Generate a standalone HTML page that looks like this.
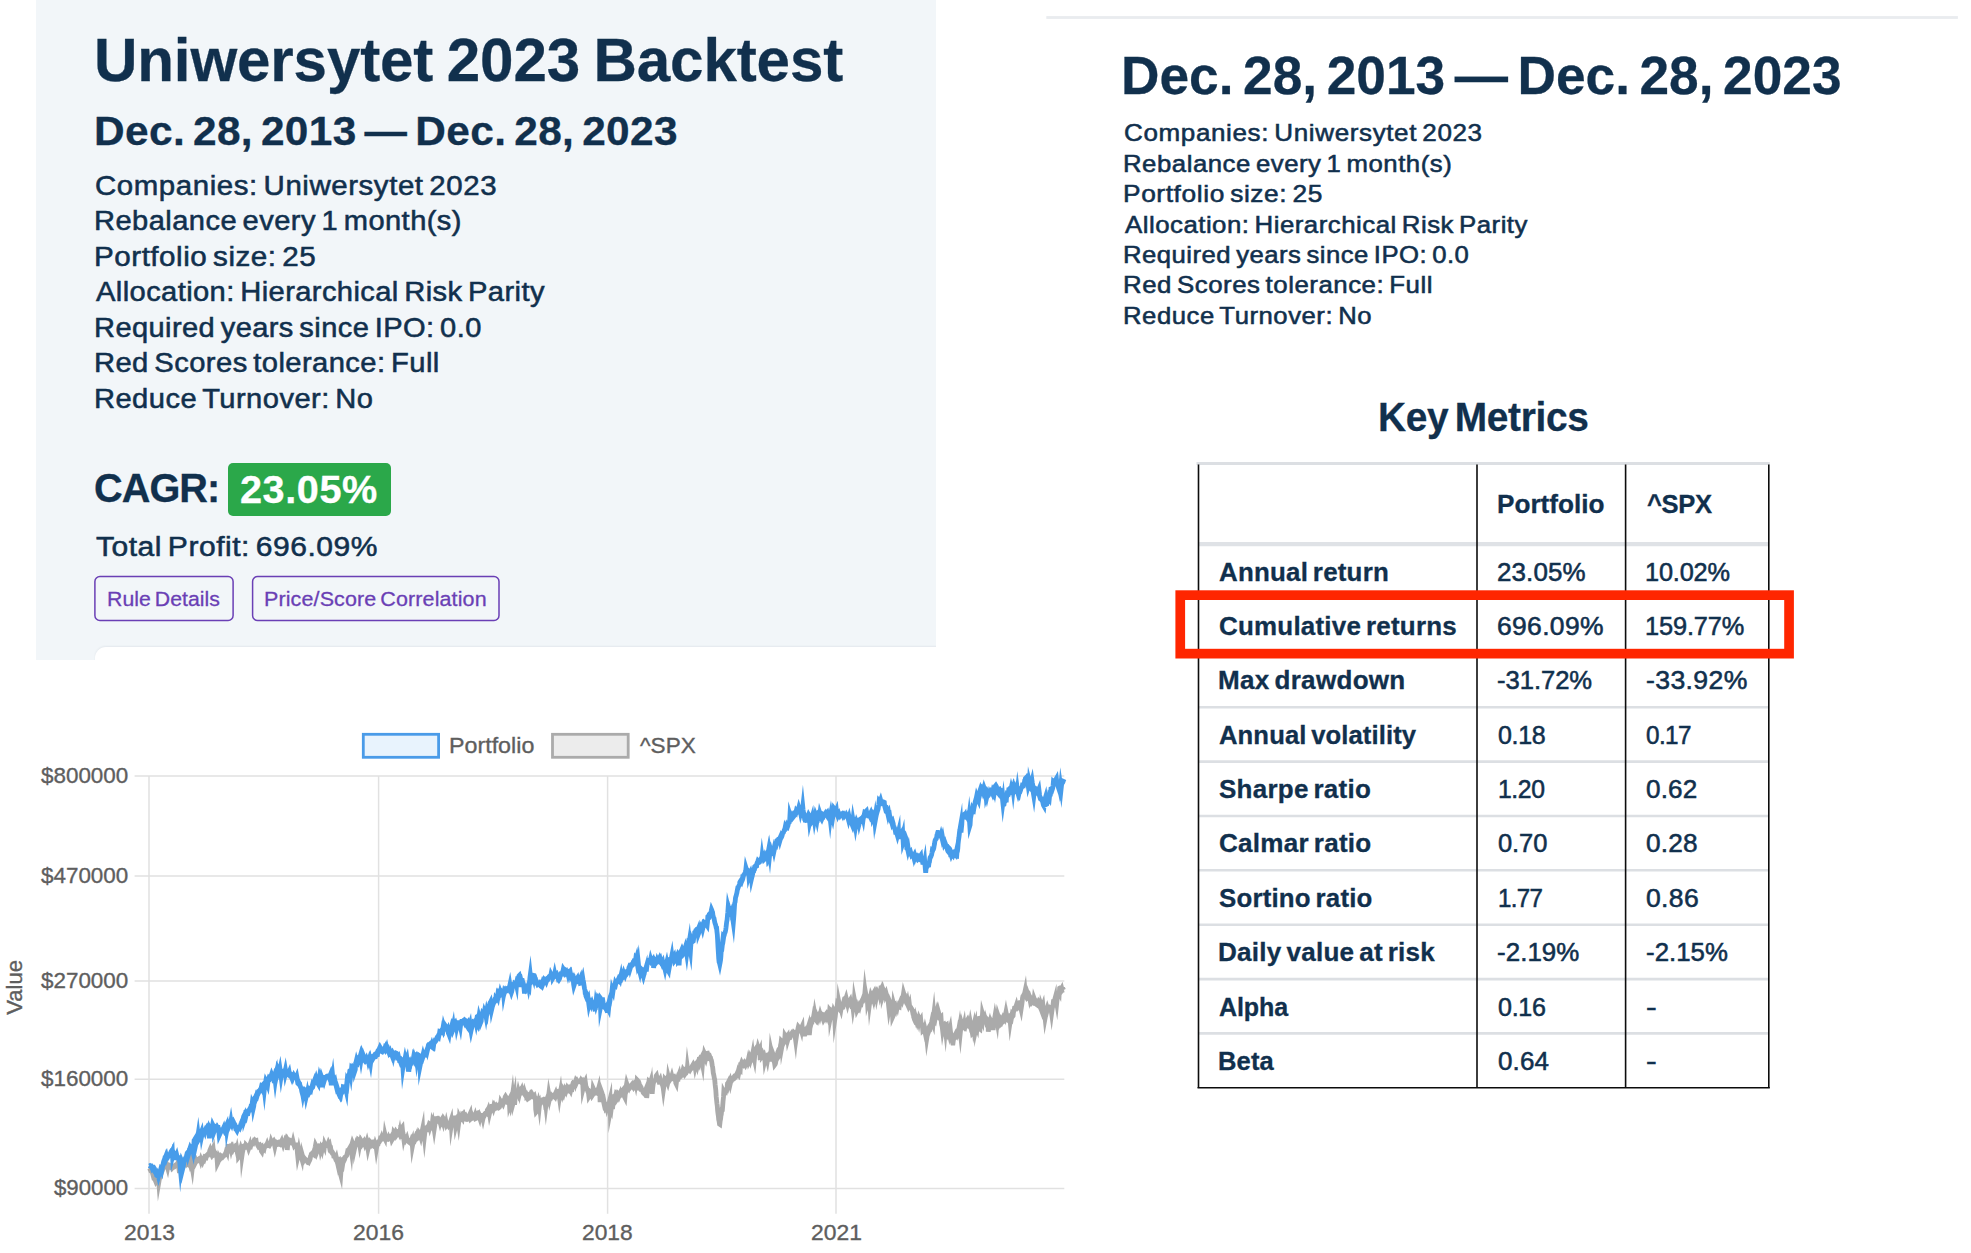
<!DOCTYPE html>
<html lang="en"><head><meta charset="utf-8"><title>Uniwersytet 2023 Backtest</title>
<style>
html,body{margin:0;padding:0;background:#fff;}
body{width:1971px;height:1253px;position:relative;overflow:hidden;font-family:"Liberation Sans", Arial, Helvetica, sans-serif;}
.t{position:absolute;white-space:pre;line-height:1;margin:0;padding:0;transform-origin:0 0;}
.panel{position:absolute;left:36px;top:0;width:900px;height:660px;background:#f2f6f9;overflow:hidden;}
.card{position:absolute;left:59px;top:646.5px;width:1000px;height:60px;background:#fff;border-top-left-radius:11px;box-shadow:0 -1px 2px rgba(40,60,90,.07);}
.badge{position:absolute;left:228.4px;top:463.3px;width:162.4px;height:52.3px;background:#2ba84a;border-radius:5px;}
svg{position:absolute;left:0;top:0;}
</style></head><body>
<div class="panel"><div class="card"></div></div>
<div class="badge"></div>
<svg width="1971" height="1253" viewBox="0 0 1971 1253">
<rect x="1046.3" y="16.1" width="911.6" height="2.8" fill="#e9ecef"/>
<rect x="94.9" y="576.6" width="138.2" height="43.8" rx="5" fill="none" stroke="#6a3fb5" stroke-width="1.5"/>
<rect x="252.6" y="576.6" width="246.4" height="43.8" rx="5" fill="none" stroke="#6a3fb5" stroke-width="1.5"/>
<line x1="134.6" y1="776.0" x2="1064.3" y2="776.0" stroke="#e1e1e1" stroke-width="1.5"/>
<line x1="134.6" y1="876.0" x2="1064.3" y2="876.0" stroke="#e1e1e1" stroke-width="1.5"/>
<line x1="134.6" y1="981.1" x2="1064.3" y2="981.1" stroke="#e1e1e1" stroke-width="1.5"/>
<line x1="134.6" y1="1079.3" x2="1064.3" y2="1079.3" stroke="#e1e1e1" stroke-width="1.5"/>
<line x1="134.6" y1="1188.5" x2="1064.3" y2="1188.5" stroke="#e1e1e1" stroke-width="1.5"/>
<line x1="149.0" y1="776.0" x2="149.0" y2="1213.8" stroke="#e1e1e1" stroke-width="1.5"/>
<line x1="378.6" y1="776.0" x2="378.6" y2="1213.8" stroke="#e1e1e1" stroke-width="1.5"/>
<line x1="607.6" y1="776.0" x2="607.6" y2="1213.8" stroke="#e1e1e1" stroke-width="1.5"/>
<line x1="836.0" y1="776.0" x2="836.0" y2="1213.8" stroke="#e1e1e1" stroke-width="1.5"/>
<rect x="363.3" y="734.3" width="75.3" height="23" fill="#e8f3fd" stroke="#4a9be8" stroke-width="2.8"/>
<rect x="552.5" y="734.3" width="75.7" height="23" fill="#ececec" stroke="#ababab" stroke-width="2.8"/>
<path d="M149.0,1168.0 149.4,1168.3 149.7,1168.8 150.1,1169.6 150.5,1170.2 150.8,1171.0 151.2,1171.2 151.5,1171.1 151.9,1171.0 152.3,1172.5 152.6,1171.5 153.0,1171.7 153.4,1172.7 153.7,1175.0 154.1,1176.9 154.5,1177.5 154.8,1178.9 155.2,1180.2 155.5,1180.9 155.9,1181.9 156.3,1181.3 156.6,1181.4 157.0,1180.8 157.4,1179.9 157.7,1179.8 158.1,1178.6 158.5,1178.4 158.8,1182.3 159.2,1180.0 159.6,1178.4 159.9,1176.5 160.3,1176.0 160.6,1175.3 161.0,1173.8 161.4,1173.3 161.7,1172.4 162.1,1171.0 162.5,1170.0 162.8,1168.4 163.2,1166.8 163.6,1166.7 163.9,1167.2 164.3,1166.6 164.6,1166.6 165.0,1166.5 165.4,1166.4 165.7,1166.2 166.1,1166.0 166.5,1164.9 166.8,1165.8 167.2,1166.4 167.6,1167.8 167.9,1166.2 168.3,1167.0 168.6,1166.8 169.0,1166.4 169.4,1165.9 169.7,1166.2 170.1,1166.9 170.5,1167.2 170.8,1166.7 171.2,1167.1 171.6,1167.4 171.9,1166.4 172.3,1166.4 172.6,1167.8 173.0,1167.4 173.4,1167.4 173.7,1167.3 174.1,1167.1 174.5,1166.6 174.8,1166.0 175.2,1166.1 175.6,1165.8 175.9,1165.1 176.3,1165.1 176.7,1164.5 177.0,1164.8 177.4,1163.9 177.7,1164.8 178.1,1165.8 178.5,1167.1 178.8,1167.8 179.2,1170.8 179.6,1170.8 179.9,1170.7 180.3,1170.6 180.7,1168.7 181.0,1167.8 181.4,1168.5 181.7,1167.5 182.1,1166.8 182.5,1167.2 182.8,1166.6 183.2,1164.2 183.6,1163.2 183.9,1162.8 184.3,1162.3 184.7,1162.0 185.0,1163.7 185.4,1163.2 185.7,1162.3 186.1,1163.0 186.5,1163.9 186.8,1163.5 187.2,1163.8 187.6,1162.7 187.9,1162.8 188.3,1162.1 188.7,1160.9 189.0,1160.1 189.4,1161.5 189.7,1159.7 190.1,1158.6 190.5,1159.6 190.8,1159.0 191.2,1158.5 191.6,1162.5 191.9,1165.6 192.3,1168.0 192.7,1164.5 193.0,1161.6 193.4,1158.7 193.7,1156.6 194.1,1157.6 194.5,1158.6 194.8,1158.5 195.2,1160.6 195.6,1162.3 195.9,1161.7 196.3,1160.9 196.7,1160.6 197.0,1160.0 197.4,1160.3 197.8,1159.6 198.1,1159.4 198.5,1160.3 198.8,1160.3 199.2,1160.3 199.6,1160.5 199.9,1160.0 200.3,1159.3 200.7,1160.6 201.0,1159.5 201.4,1160.5 201.8,1159.9 202.1,1160.1 202.5,1159.7 202.8,1160.7 203.2,1159.6 203.6,1159.1 203.9,1158.4 204.3,1159.0 204.7,1157.8 205.0,1156.4 205.4,1156.2 205.8,1157.5 206.1,1157.6 206.5,1156.1 206.8,1155.2 207.2,1154.8 207.6,1155.1 207.9,1155.1 208.3,1154.3 208.7,1153.3 209.0,1152.9 209.4,1152.3 209.8,1150.4 210.1,1149.7 210.5,1151.0 210.8,1152.8 211.2,1153.7 211.6,1152.6 211.9,1152.8 212.3,1151.6 212.7,1153.3 213.0,1152.7 213.4,1151.2 213.8,1154.9 214.1,1154.7 214.5,1152.9 214.9,1154.1 215.2,1154.0 215.6,1154.8 215.9,1153.7 216.3,1154.2 216.7,1156.6 217.0,1158.2 217.4,1163.8 217.8,1163.0 218.1,1161.8 218.5,1161.1 218.9,1160.3 219.2,1157.7 219.6,1158.5 219.9,1157.9 220.3,1158.8 220.7,1158.3 221.0,1157.9 221.4,1156.2 221.8,1156.5 222.1,1156.9 222.5,1157.2 222.9,1156.7 223.2,1156.3 223.6,1156.1 223.9,1155.6 224.3,1155.2 224.7,1155.1 225.0,1154.4 225.4,1154.3 225.8,1152.9 226.1,1152.0 226.5,1150.5 226.9,1150.7 227.2,1151.5 227.6,1148.2 227.9,1146.4 228.3,1146.5 228.7,1146.4 229.0,1146.9 229.4,1146.2 229.8,1146.0 230.1,1146.0 230.5,1147.8 230.9,1147.2 231.2,1148.7 231.6,1147.1 232.0,1146.6 232.3,1147.7 232.7,1148.1 233.0,1148.9 233.4,1148.0 233.8,1148.3 234.1,1147.7 234.5,1146.9 234.9,1146.8 235.2,1147.0 235.6,1146.3 236.0,1146.7 236.3,1148.3 236.7,1150.0 237.0,1148.8 237.4,1150.9 237.8,1150.2 238.1,1150.1 238.5,1157.3 238.9,1156.8 239.2,1153.7 239.6,1153.5 240.0,1151.7 240.3,1149.4 240.7,1148.1 241.0,1149.0 241.4,1149.4 241.8,1149.3 242.1,1154.8 242.5,1152.1 242.9,1150.4 243.2,1148.7 243.6,1146.1 244.0,1145.9 244.3,1146.7 244.7,1147.0 245.0,1147.2 245.4,1147.4 245.8,1147.3 246.1,1145.0 246.5,1145.4 246.9,1145.7 247.2,1145.8 247.6,1145.8 248.0,1146.4 248.3,1147.2 248.7,1148.5 249.0,1147.7 249.4,1146.1 249.8,1145.0 250.1,1146.7 250.5,1146.8 250.9,1145.4 251.2,1144.6 251.6,1143.7 252.0,1143.9 252.3,1143.9 252.7,1143.6 253.1,1142.3 253.4,1141.7 253.8,1142.3 254.1,1141.7 254.5,1141.3 254.9,1140.6 255.2,1141.0 255.6,1140.7 256.0,1140.6 256.3,1142.9 256.7,1143.2 257.1,1143.6 257.4,1144.2 257.8,1145.4 258.1,1145.9 258.5,1146.6 258.9,1146.2 259.2,1145.5 259.6,1145.9 260.0,1145.5 260.3,1146.1 260.7,1147.2 261.1,1146.9 261.4,1151.1 261.8,1151.7 262.1,1150.3 262.5,1148.4 262.9,1148.6 263.2,1149.5 263.6,1148.9 264.0,1149.3 264.3,1147.9 264.7,1146.4 265.1,1146.0 265.4,1145.9 265.8,1145.4 266.1,1146.0 266.5,1145.7 266.9,1144.7 267.2,1143.9 267.6,1145.0 268.0,1145.4 268.3,1145.5 268.7,1144.5 269.1,1144.3 269.4,1144.0 269.8,1143.5 270.2,1144.3 270.5,1143.8 270.9,1142.8 271.2,1141.4 271.6,1142.4 272.0,1142.6 272.3,1142.1 272.7,1142.3 273.1,1141.8 273.4,1141.5 273.8,1141.0 274.2,1141.8 274.5,1144.7 274.9,1146.6 275.2,1145.3 275.6,1144.7 276.0,1143.1 276.3,1142.7 276.7,1143.1 277.1,1142.9 277.4,1143.7 277.8,1144.4 278.2,1144.3 278.5,1144.2 278.9,1143.4 279.2,1143.5 279.6,1144.3 280.0,1144.5 280.3,1143.9 280.7,1142.0 281.1,1142.0 281.4,1141.4 281.8,1143.3 282.2,1143.4 282.5,1142.6 282.9,1143.1 283.2,1144.1 283.6,1142.8 284.0,1142.8 284.3,1141.8 284.7,1141.7 285.1,1140.4 285.4,1139.6 285.8,1140.1 286.2,1141.0 286.5,1139.9 286.9,1140.7 287.3,1150.0 287.6,1145.9 288.0,1144.2 288.3,1141.0 288.7,1141.7 289.1,1141.4 289.4,1140.4 289.8,1140.1 290.2,1140.3 290.5,1141.5 290.9,1141.5 291.3,1141.8 291.6,1141.4 292.0,1141.6 292.3,1143.3 292.7,1143.5 293.1,1141.8 293.4,1143.1 293.8,1144.2 294.2,1145.5 294.5,1145.1 294.9,1145.1 295.3,1145.3 295.6,1145.0 296.0,1145.0 296.3,1146.9 296.7,1147.6 297.1,1148.3 297.4,1152.9 297.8,1156.7 298.2,1155.0 298.5,1152.8 298.9,1150.5 299.3,1152.7 299.6,1152.9 300.0,1154.5 300.3,1155.3 300.7,1155.7 301.1,1156.3 301.4,1157.4 301.8,1158.8 302.2,1154.8 302.5,1155.9 302.9,1156.3 303.3,1157.3 303.6,1158.1 304.0,1158.4 304.3,1159.4 304.7,1158.7 305.1,1159.2 305.4,1159.7 305.8,1159.5 306.2,1159.7 306.5,1160.3 306.9,1160.9 307.3,1161.6 307.6,1161.5 308.0,1162.1 308.4,1161.9 308.7,1162.2 309.1,1161.3 309.4,1160.9 309.8,1159.9 310.2,1158.7 310.5,1156.4 310.9,1155.7 311.3,1154.1 311.6,1153.8 312.0,1153.9 312.4,1153.3 312.7,1152.9 313.1,1154.1 313.4,1154.4 313.8,1154.7 314.2,1151.9 314.5,1149.7 314.9,1148.3 315.3,1146.5 315.6,1144.9 316.0,1145.7 316.4,1145.8 316.7,1147.0 317.1,1148.3 317.4,1150.7 317.8,1149.7 318.2,1147.9 318.5,1146.3 318.9,1145.9 319.3,1146.0 319.6,1146.9 320.0,1147.0 320.4,1147.3 320.7,1149.3 321.1,1147.8 321.4,1148.4 321.8,1147.7 322.2,1149.2 322.5,1147.8 322.9,1145.6 323.3,1144.8 323.6,1144.4 324.0,1145.5 324.4,1146.5 324.7,1144.1 325.1,1145.0 325.5,1145.4 325.8,1145.5 326.2,1145.5 326.5,1145.1 326.9,1144.9 327.3,1145.4 327.6,1145.5 328.0,1144.0 328.4,1142.9 328.7,1143.6 329.1,1145.6 329.5,1144.9 329.8,1146.4 330.2,1146.6 330.5,1149.6 330.9,1149.4 331.3,1151.9 331.6,1152.2 332.0,1152.9 332.4,1153.6 332.7,1153.8 333.1,1153.4 333.5,1154.1 333.8,1156.4 334.2,1156.5 334.5,1156.7 334.9,1156.9 335.3,1158.0 335.6,1157.8 336.0,1158.9 336.4,1157.8 336.7,1159.2 337.1,1161.0 337.5,1157.0 337.8,1160.2 338.2,1162.9 338.5,1162.8 338.9,1162.4 339.3,1161.8 339.6,1163.3 340.0,1173.4 340.4,1173.9 340.7,1175.0 341.1,1169.5 341.5,1164.8 341.8,1160.1 342.2,1159.8 342.6,1162.0 342.9,1162.8 343.3,1160.2 343.6,1159.8 344.0,1159.3 344.4,1159.9 344.7,1159.3 345.1,1157.2 345.5,1157.0 345.8,1156.5 346.2,1156.1 346.6,1155.7 346.9,1154.8 347.3,1153.0 347.6,1151.6 348.0,1151.8 348.4,1151.2 348.7,1151.1 349.1,1149.0 349.5,1148.3 349.8,1149.0 350.2,1147.9 350.6,1147.7 350.9,1147.3 351.3,1150.1 351.6,1146.4 352.0,1143.9 352.4,1142.5 352.7,1143.2 353.1,1143.8 353.5,1143.4 353.8,1143.5 354.2,1143.5 354.6,1148.4 354.9,1147.0 355.3,1145.7 355.6,1145.3 356.0,1144.0 356.4,1143.5 356.7,1142.4 357.1,1140.8 357.5,1141.0 357.8,1141.5 358.2,1139.7 358.6,1140.0 358.9,1142.0 359.3,1142.1 359.7,1144.6 360.0,1143.0 360.4,1141.4 360.7,1142.1 361.1,1140.8 361.5,1141.5 361.8,1141.8 362.2,1140.9 362.6,1141.0 362.9,1143.0 363.3,1142.4 363.7,1142.1 364.0,1141.6 364.4,1142.8 364.7,1143.7 365.1,1142.4 365.5,1142.8 365.8,1143.2 366.2,1143.2 366.6,1142.5 366.9,1141.5 367.3,1143.2 367.7,1146.9 368.0,1148.9 368.4,1147.2 368.7,1143.5 369.1,1143.2 369.5,1143.8 369.8,1143.1 370.2,1141.7 370.6,1142.1 370.9,1142.1 371.3,1143.0 371.7,1143.0 372.0,1144.2 372.4,1143.7 372.7,1144.6 373.1,1145.5 373.5,1145.7 373.8,1146.1 374.2,1146.5 374.6,1146.7 374.9,1145.6 375.3,1144.0 375.7,1145.1 376.0,1145.6 376.4,1148.7 376.7,1146.9 377.1,1145.6 377.5,1144.0 377.8,1143.5 378.2,1142.7 378.6,1142.9 378.9,1142.0 379.3,1141.9 379.7,1141.2 380.0,1140.3 380.4,1138.4 380.8,1138.5 381.1,1138.3 381.5,1137.3 381.8,1138.3 382.2,1138.2 382.6,1138.2 382.9,1137.8 383.3,1138.5 383.7,1138.3 384.0,1138.4 384.4,1137.7 384.8,1138.5 385.1,1135.1 385.5,1136.8 385.8,1136.5 386.2,1136.7 386.6,1137.1 386.9,1138.5 387.3,1139.2 387.7,1139.3 388.0,1138.6 388.4,1138.6 388.8,1137.4 389.1,1138.0 389.5,1137.8 389.8,1136.5 390.2,1136.4 390.6,1136.9 390.9,1137.5 391.3,1136.8 391.7,1138.4 392.0,1139.8 392.4,1139.1 392.8,1138.8 393.1,1136.4 393.5,1134.7 393.8,1132.5 394.2,1133.1 394.6,1132.8 394.9,1133.6 395.3,1132.2 395.7,1131.4 396.0,1131.9 396.4,1131.8 396.8,1132.7 397.1,1134.2 397.5,1133.6 397.9,1133.4 398.2,1132.5 398.6,1132.2 398.9,1132.9 399.3,1133.7 399.7,1131.9 400.0,1133.7 400.4,1133.7 400.8,1125.0 401.1,1128.2 401.5,1128.7 401.9,1127.7 402.2,1127.3 402.6,1131.4 402.9,1135.5 403.3,1135.3 403.7,1138.2 404.0,1136.9 404.4,1138.2 404.8,1137.5 405.1,1138.1 405.5,1138.1 405.9,1139.5 406.2,1139.0 406.6,1138.9 406.9,1138.2 407.3,1139.7 407.7,1139.6 408.0,1139.8 408.4,1140.8 408.8,1141.6 409.1,1142.2 409.5,1142.5 409.9,1142.1 410.2,1142.3 410.6,1142.3 410.9,1141.9 411.3,1140.7 411.7,1141.8 412.0,1141.0 412.4,1146.0 412.8,1143.9 413.1,1140.1 413.5,1138.2 413.9,1137.5 414.2,1137.3 414.6,1137.3 415.0,1137.9 415.3,1137.2 415.7,1138.3 416.0,1137.6 416.4,1136.5 416.8,1138.1 417.1,1138.7 417.5,1138.4 417.9,1136.8 418.2,1136.1 418.6,1134.8 419.0,1132.7 419.3,1133.1 419.7,1134.2 420.0,1134.6 420.4,1135.6 420.8,1136.9 421.1,1135.5 421.5,1134.2 421.9,1132.9 422.2,1130.9 422.6,1129.0 423.0,1137.1 423.3,1133.0 423.7,1129.4 424.0,1132.8 424.4,1136.5 424.8,1133.0 425.1,1130.2 425.5,1130.1 425.9,1128.7 426.2,1127.7 426.6,1127.5 427.0,1127.8 427.3,1127.4 427.7,1127.8 428.0,1132.0 428.4,1128.5 428.8,1125.9 429.1,1124.9 429.5,1125.4 429.9,1127.1 430.2,1126.1 430.6,1126.7 431.0,1125.8 431.3,1126.2 431.7,1125.8 432.0,1126.3 432.4,1122.8 432.8,1124.0 433.1,1122.8 433.5,1124.8 433.9,1127.3 434.2,1129.3 434.6,1126.7 435.0,1123.9 435.3,1121.8 435.7,1121.7 436.1,1121.6 436.4,1118.6 436.8,1118.6 437.1,1118.5 437.5,1119.4 437.9,1119.2 438.2,1120.4 438.6,1120.4 439.0,1121.1 439.3,1120.5 439.7,1120.4 440.1,1122.0 440.4,1120.9 440.8,1121.3 441.1,1120.8 441.5,1122.8 441.9,1122.2 442.2,1120.9 442.6,1121.2 443.0,1122.4 443.3,1120.7 443.7,1119.0 444.1,1119.6 444.4,1120.2 444.8,1121.2 445.1,1122.5 445.5,1124.3 445.9,1124.3 446.2,1123.0 446.6,1124.9 447.0,1124.3 447.3,1124.2 447.7,1124.2 448.1,1124.9 448.4,1124.1 448.8,1124.0 449.1,1124.5 449.5,1124.8 449.9,1124.7 450.2,1123.5 450.6,1121.6 451.0,1120.4 451.3,1125.0 451.7,1122.5 452.1,1120.0 452.4,1120.0 452.8,1117.9 453.2,1117.9 453.5,1121.3 453.9,1121.8 454.2,1119.4 454.6,1118.1 455.0,1118.0 455.3,1121.6 455.7,1126.0 456.1,1124.4 456.4,1123.3 456.8,1121.4 457.2,1118.5 457.5,1117.9 457.9,1118.3 458.2,1120.8 458.6,1123.5 459.0,1120.4 459.3,1116.9 459.7,1117.8 460.1,1117.4 460.4,1117.8 460.8,1117.9 461.2,1119.0 461.5,1119.2 461.9,1117.1 462.2,1117.6 462.6,1113.9 463.0,1113.6 463.3,1115.7 463.7,1117.3 464.1,1116.5 464.4,1115.5 464.8,1116.3 465.2,1115.8 465.5,1115.5 465.9,1116.3 466.2,1118.0 466.6,1119.4 467.0,1119.5 467.3,1119.4 467.7,1118.1 468.1,1117.7 468.4,1117.0 468.8,1116.2 469.2,1116.0 469.5,1116.3 469.9,1114.3 470.3,1113.4 470.6,1115.8 471.0,1118.5 471.3,1118.2 471.7,1118.4 472.1,1118.1 472.4,1116.6 472.8,1117.6 473.2,1117.7 473.5,1117.2 473.9,1116.9 474.3,1116.6 474.6,1116.6 475.0,1115.5 475.3,1116.8 475.7,1118.6 476.1,1118.4 476.4,1116.9 476.8,1115.4 477.2,1113.7 477.5,1113.2 477.9,1113.0 478.3,1113.4 478.6,1115.3 479.0,1115.3 479.3,1116.8 479.7,1118.0 480.1,1116.1 480.4,1116.7 480.8,1116.3 481.2,1115.4 481.5,1115.5 481.9,1115.5 482.3,1116.8 482.6,1116.8 483.0,1118.6 483.3,1117.2 483.7,1115.8 484.1,1115.8 484.4,1114.6 484.8,1114.0 485.2,1114.0 485.5,1113.5 485.9,1113.5 486.3,1113.7 486.6,1112.9 487.0,1112.1 487.3,1110.2 487.7,1109.6 488.1,1110.2 488.4,1109.4 488.8,1110.9 489.2,1111.6 489.5,1113.5 489.9,1111.8 490.3,1109.7 490.6,1110.1 491.0,1108.9 491.4,1107.3 491.7,1106.3 492.1,1106.3 492.4,1106.6 492.8,1107.0 493.2,1108.1 493.5,1106.8 493.9,1107.7 494.3,1106.5 494.6,1107.2 495.0,1107.9 495.4,1107.4 495.7,1106.3 496.1,1105.7 496.4,1106.2 496.8,1107.0 497.2,1106.6 497.5,1107.6 497.9,1107.8 498.3,1107.4 498.6,1107.2 499.0,1107.6 499.4,1107.3 499.7,1106.6 500.1,1105.0 500.4,1104.5 500.8,1101.7 501.2,1102.4 501.5,1101.9 501.9,1101.6 502.3,1103.2 502.6,1103.2 503.0,1103.9 503.4,1102.7 503.7,1101.6 504.1,1101.2 504.4,1101.3 504.8,1098.6 505.2,1096.9 505.5,1096.4 505.9,1097.1 506.3,1098.3 506.6,1098.6 507.0,1100.3 507.4,1100.3 507.7,1102.5 508.1,1102.6 508.5,1101.7 508.8,1100.4 509.2,1099.6 509.5,1105.0 509.9,1103.8 510.3,1105.4 510.6,1103.8 511.0,1103.9 511.4,1100.7 511.7,1100.1 512.1,1098.5 512.5,1095.5 512.8,1098.8 513.2,1102.9 513.5,1101.8 513.9,1098.7 514.3,1096.6 514.6,1104.8 515.0,1099.5 515.4,1094.1 515.7,1093.5 516.1,1094.3 516.5,1093.9 516.8,1094.1 517.2,1093.4 517.5,1092.9 517.9,1093.7 518.3,1091.6 518.6,1092.8 519.0,1091.5 519.4,1091.0 519.7,1092.6 520.1,1090.9 520.5,1089.9 520.8,1089.6 521.2,1090.0 521.5,1089.4 521.9,1091.4 522.3,1090.9 522.6,1091.9 523.0,1092.6 523.4,1093.0 523.7,1092.8 524.1,1093.4 524.5,1091.8 524.8,1092.8 525.2,1092.6 525.6,1092.6 525.9,1093.3 526.3,1093.5 526.6,1096.5 527.0,1096.2 527.4,1098.5 527.7,1099.0 528.1,1098.7 528.5,1098.5 528.8,1094.7 529.2,1094.6 529.6,1095.2 529.9,1095.2 530.3,1094.7 530.6,1094.5 531.0,1093.5 531.4,1093.9 531.7,1093.4 532.1,1094.1 532.5,1095.8 532.8,1097.0 533.2,1097.1 533.6,1096.4 533.9,1096.2 534.3,1095.8 534.6,1097.0 535.0,1097.4 535.4,1099.2 535.7,1109.4 536.1,1112.0 536.5,1111.5 536.8,1108.3 537.2,1105.5 537.6,1103.1 537.9,1103.6 538.3,1102.1 538.6,1103.5 539.0,1102.7 539.4,1105.8 539.7,1103.0 540.1,1103.6 540.5,1103.4 540.8,1102.7 541.2,1101.1 541.6,1101.2 541.9,1101.3 542.3,1101.2 542.7,1101.0 543.0,1099.6 543.4,1099.5 543.7,1099.5 544.1,1099.2 544.5,1099.4 544.8,1100.5 545.2,1103.5 545.6,1102.9 545.9,1105.5 546.3,1102.3 546.7,1098.6 547.0,1098.4 547.4,1097.8 547.7,1097.0 548.1,1098.2 548.5,1096.6 548.8,1094.2 549.2,1096.4 549.6,1098.8 549.9,1097.5 550.3,1096.4 550.7,1096.3 551.0,1096.1 551.4,1096.6 551.7,1095.9 552.1,1096.4 552.5,1096.5 552.8,1095.7 553.2,1095.5 553.6,1095.0 553.9,1094.8 554.3,1096.5 554.7,1096.9 555.0,1095.5 555.4,1093.8 555.7,1093.1 556.1,1094.5 556.5,1093.4 556.8,1093.8 557.2,1093.1 557.6,1092.2 557.9,1091.3 558.3,1091.2 558.7,1091.7 559.0,1094.1 559.4,1097.0 559.7,1095.0 560.1,1093.9 560.5,1091.7 560.8,1094.3 561.2,1094.3 561.6,1092.0 561.9,1091.7 562.3,1093.3 562.7,1091.8 563.0,1092.8 563.4,1093.7 563.8,1092.2 564.1,1091.4 564.5,1090.2 564.8,1091.0 565.2,1090.8 565.6,1090.8 565.9,1091.4 566.3,1090.2 566.7,1088.9 567.0,1089.2 567.4,1087.8 567.8,1088.4 568.1,1089.4 568.5,1089.8 568.8,1089.1 569.2,1088.4 569.6,1089.0 569.9,1089.2 570.3,1090.0 570.7,1090.8 571.0,1089.7 571.4,1089.2 571.8,1089.3 572.1,1085.7 572.5,1085.2 572.8,1084.1 573.2,1084.2 573.6,1082.9 573.9,1083.0 574.3,1083.3 574.7,1083.0 575.0,1083.8 575.4,1082.1 575.8,1080.8 576.1,1081.3 576.5,1081.3 576.8,1082.1 577.2,1081.2 577.6,1081.9 577.9,1081.7 578.3,1081.3 578.7,1081.6 579.0,1081.7 579.4,1081.7 579.8,1081.4 580.1,1081.6 580.5,1081.0 580.9,1080.2 581.2,1080.7 581.6,1080.9 581.9,1080.7 582.3,1082.5 582.7,1082.5 583.0,1088.7 583.4,1087.1 583.8,1086.1 584.1,1084.0 584.5,1082.0 584.9,1081.8 585.2,1081.2 585.6,1084.1 585.9,1086.4 586.3,1087.1 586.7,1088.2 587.0,1089.5 587.4,1090.1 587.8,1091.4 588.1,1092.2 588.5,1093.3 588.9,1096.6 589.2,1096.1 589.6,1095.2 589.9,1093.0 590.3,1092.0 590.7,1092.4 591.0,1092.0 591.4,1092.1 591.8,1094.9 592.1,1095.8 592.5,1095.2 592.9,1091.8 593.2,1088.3 593.6,1089.2 593.9,1089.6 594.3,1090.6 594.7,1091.2 595.0,1091.8 595.4,1092.3 595.8,1091.9 596.1,1092.6 596.5,1092.8 596.9,1093.0 597.2,1091.9 597.6,1090.6 598.0,1090.7 598.3,1089.5 598.7,1088.0 599.0,1090.7 599.4,1093.7 599.8,1094.5 600.1,1102.1 600.5,1096.3 600.9,1097.1 601.2,1097.1 601.6,1092.0 602.0,1093.1 602.3,1095.9 602.7,1097.5 603.0,1098.9 603.4,1101.0 603.8,1102.8 604.1,1102.0 604.5,1104.1 604.9,1104.6 605.2,1105.5 605.6,1107.5 606.0,1106.9 606.3,1106.5 606.7,1108.0 607.0,1106.9 607.4,1105.1 607.8,1105.3 608.1,1105.9 608.5,1106.3 608.9,1105.2 609.2,1104.9 609.6,1100.9 610.0,1099.3 610.3,1110.9 610.7,1108.8 611.0,1106.2 611.4,1107.6 611.8,1104.5 612.1,1099.7 612.5,1108.9 612.9,1105.1 613.2,1100.2 613.6,1097.9 614.0,1096.3 614.3,1096.2 614.7,1097.6 615.0,1096.4 615.4,1095.1 615.8,1094.8 616.1,1093.6 616.5,1094.0 616.9,1095.7 617.2,1098.8 617.6,1098.2 618.0,1095.7 618.3,1093.9 618.7,1094.3 619.1,1095.6 619.4,1094.8 619.8,1093.9 620.1,1095.6 620.5,1095.2 620.9,1094.8 621.2,1094.0 621.6,1093.9 622.0,1093.3 622.3,1092.2 622.7,1090.2 623.1,1089.7 623.4,1092.5 623.8,1095.0 624.1,1095.5 624.5,1096.8 624.9,1097.6 625.2,1094.2 625.6,1093.0 626.0,1090.2 626.3,1085.9 626.7,1083.5 627.1,1084.7 627.4,1085.5 627.8,1088.4 628.1,1088.7 628.5,1087.0 628.9,1087.5 629.2,1086.9 629.6,1087.0 630.0,1087.6 630.3,1087.2 630.7,1087.1 631.1,1086.0 631.4,1085.3 631.8,1084.8 632.1,1085.3 632.5,1086.1 632.9,1086.7 633.2,1085.7 633.6,1086.4 634.0,1085.9 634.3,1084.2 634.7,1084.1 635.1,1082.2 635.4,1082.0 635.8,1083.8 636.2,1081.3 636.5,1090.4 636.9,1083.9 637.2,1080.0 637.6,1080.4 638.0,1082.0 638.3,1082.2 638.7,1082.2 639.1,1083.3 639.4,1084.5 639.8,1086.4 640.2,1087.6 640.5,1087.3 640.9,1087.1 641.2,1087.7 641.6,1089.3 642.0,1090.2 642.3,1090.6 642.7,1091.1 643.1,1092.4 643.4,1092.8 643.8,1093.2 644.2,1092.0 644.5,1090.9 644.9,1091.1 645.2,1090.2 645.6,1090.1 646.0,1089.1 646.3,1091.0 646.7,1097.9 647.1,1094.1 647.4,1090.4 647.8,1085.7 648.2,1085.2 648.5,1084.0 648.9,1081.6 649.2,1081.9 649.6,1083.2 650.0,1083.5 650.3,1082.9 650.7,1081.6 651.1,1088.5 651.4,1092.9 651.8,1089.5 652.2,1093.9 652.5,1090.0 652.9,1086.3 653.3,1083.5 653.6,1082.2 654.0,1081.8 654.3,1081.0 654.7,1080.5 655.1,1080.3 655.4,1080.1 655.8,1079.8 656.2,1075.8 656.5,1075.4 656.9,1077.1 657.3,1077.3 657.6,1078.8 658.0,1079.6 658.3,1080.2 658.7,1080.8 659.1,1082.0 659.4,1081.9 659.8,1080.2 660.2,1079.4 660.5,1080.6 660.9,1081.3 661.3,1082.8 661.6,1083.4 662.0,1083.4 662.3,1083.4 662.7,1085.7 663.1,1087.3 663.4,1089.6 663.8,1086.8 664.2,1085.1 664.5,1083.2 664.9,1079.3 665.3,1079.8 665.6,1081.4 666.0,1080.6 666.3,1081.5 666.7,1083.3 667.1,1083.2 667.4,1081.9 667.8,1083.0 668.2,1081.4 668.5,1077.6 668.9,1079.2 669.3,1080.0 669.6,1080.4 670.0,1079.8 670.3,1078.5 670.7,1078.5 671.1,1078.5 671.4,1077.4 671.8,1076.1 672.2,1077.7 672.5,1078.3 672.9,1078.4 673.3,1078.4 673.6,1076.5 674.0,1076.4 674.4,1077.2 674.7,1079.1 675.1,1079.1 675.4,1079.0 675.8,1083.2 676.2,1084.0 676.5,1081.6 676.9,1080.0 677.3,1078.7 677.6,1078.0 678.0,1076.8 678.4,1077.2 678.7,1075.3 679.1,1074.2 679.4,1075.8 679.8,1077.2 680.2,1076.9 680.5,1075.7 680.9,1074.6 681.3,1074.3 681.6,1075.5 682.0,1075.4 682.4,1073.1 682.7,1071.8 683.1,1070.1 683.4,1070.6 683.8,1070.3 684.2,1072.6 684.5,1073.2 684.9,1074.2 685.3,1073.6 685.6,1072.9 686.0,1072.9 686.4,1071.6 686.7,1070.9 687.1,1070.9 687.4,1067.5 687.8,1070.4 688.2,1069.9 688.5,1070.3 688.9,1070.1 689.3,1069.2 689.6,1069.4 690.0,1070.0 690.4,1069.3 690.7,1069.2 691.1,1068.8 691.5,1067.5 691.8,1067.2 692.2,1066.3 692.5,1066.2 692.9,1065.1 693.3,1064.4 693.6,1065.0 694.0,1064.8 694.4,1064.7 694.7,1064.6 695.1,1067.0 695.5,1065.3 695.8,1064.5 696.2,1063.4 696.5,1063.3 696.9,1062.8 697.3,1063.6 697.6,1065.0 698.0,1063.4 698.4,1062.3 698.7,1062.9 699.1,1059.9 699.5,1060.0 699.8,1059.4 700.2,1059.2 700.5,1058.4 700.9,1058.7 701.3,1057.9 701.6,1060.1 702.0,1062.0 702.4,1064.0 702.7,1060.0 703.1,1057.1 703.5,1057.3 703.8,1056.4 704.2,1055.7 704.5,1053.5 704.9,1054.4 705.3,1058.3 705.6,1059.0 706.0,1057.3 706.4,1055.1 706.7,1053.5 707.1,1053.4 707.5,1053.3 707.8,1054.4 708.2,1054.5 708.6,1055.8 708.9,1058.4 709.3,1058.3 709.6,1057.8 710.0,1057.3 710.4,1058.4 710.7,1058.4 711.1,1059.8 711.5,1060.9 711.8,1062.4 712.2,1065.4 712.6,1066.9 712.9,1069.4 713.3,1073.3 713.6,1074.2 714.0,1076.2 714.4,1078.6 714.7,1079.5 715.1,1084.2 715.5,1087.8 715.8,1090.3 716.2,1096.5 716.6,1100.3 716.9,1103.3 717.3,1106.1 717.6,1110.3 718.0,1113.6 718.4,1116.4 718.7,1119.6 719.1,1121.2 719.5,1124.1 719.8,1124.3 720.2,1120.8 720.6,1118.8 720.9,1116.0 721.3,1114.3 721.6,1111.1 722.0,1109.3 722.4,1109.3 722.7,1105.7 723.1,1100.9 723.5,1097.0 723.8,1091.7 724.2,1092.5 724.6,1091.0 724.9,1091.0 725.3,1090.6 725.7,1090.3 726.0,1090.7 726.4,1089.2 726.7,1089.0 727.1,1088.5 727.5,1083.5 727.8,1083.2 728.2,1082.4 728.6,1084.3 728.9,1083.3 729.3,1083.8 729.7,1081.9 730.0,1081.1 730.4,1083.0 730.7,1081.7 731.1,1081.6 731.5,1081.1 731.8,1080.4 732.2,1079.6 732.6,1079.3 732.9,1078.1 733.3,1078.1 733.7,1077.3 734.0,1076.9 734.4,1077.2 734.7,1076.8 735.1,1077.5 735.5,1077.1 735.8,1076.7 736.2,1076.0 736.6,1075.2 736.9,1074.3 737.3,1074.6 737.7,1073.1 738.0,1074.2 738.4,1074.7 738.7,1073.2 739.1,1071.0 739.5,1069.5 739.8,1070.1 740.2,1070.4 740.6,1064.3 740.9,1064.2 741.3,1063.7 741.7,1062.6 742.0,1063.2 742.4,1063.1 742.7,1064.3 743.1,1063.8 743.5,1063.3 743.8,1064.0 744.2,1063.4 744.6,1064.5 744.9,1064.6 745.3,1065.2 745.7,1064.3 746.0,1062.3 746.4,1062.0 746.8,1063.2 747.1,1063.0 747.5,1062.1 747.8,1061.9 748.2,1060.1 748.6,1061.9 748.9,1061.2 749.3,1060.1 749.7,1060.6 750.0,1059.2 750.4,1060.5 750.8,1059.2 751.1,1057.2 751.5,1056.3 751.8,1056.5 752.2,1056.5 752.6,1054.4 752.9,1057.0 753.3,1056.3 753.7,1056.5 754.0,1057.2 754.4,1059.0 754.8,1054.9 755.1,1053.9 755.5,1053.4 755.8,1052.3 756.2,1048.4 756.6,1047.8 756.9,1048.5 757.3,1048.0 757.7,1048.4 758.0,1047.0 758.4,1048.2 758.8,1048.7 759.1,1048.8 759.5,1051.8 759.8,1051.0 760.2,1060.0 760.6,1056.4 760.9,1054.8 761.3,1051.3 761.7,1051.7 762.0,1056.6 762.4,1056.1 762.8,1055.9 763.1,1054.7 763.5,1055.6 763.9,1055.0 764.2,1056.1 764.6,1056.6 764.9,1060.4 765.3,1058.8 765.7,1058.8 766.0,1059.0 766.4,1057.7 766.8,1057.2 767.1,1058.6 767.5,1060.3 767.9,1058.0 768.2,1055.1 768.6,1055.1 768.9,1056.6 769.3,1056.2 769.7,1055.0 770.0,1058.0 770.4,1061.6 770.8,1056.6 771.1,1051.0 771.5,1052.9 771.9,1052.6 772.2,1051.9 772.6,1053.0 772.9,1054.0 773.3,1059.3 773.7,1060.4 774.0,1060.3 774.4,1062.2 774.8,1064.8 775.1,1064.4 775.5,1063.3 775.9,1061.1 776.2,1060.1 776.6,1058.1 776.9,1056.2 777.3,1055.3 777.7,1052.5 778.0,1052.0 778.4,1050.9 778.8,1049.6 779.1,1049.2 779.5,1055.0 779.9,1054.4 780.2,1048.1 780.6,1045.0 781.0,1043.3 781.3,1040.8 781.7,1041.2 782.0,1045.9 782.4,1043.7 782.8,1043.5 783.1,1043.7 783.5,1042.8 783.9,1042.1 784.2,1042.1 784.6,1041.2 785.0,1035.5 785.3,1036.0 785.7,1035.9 786.0,1036.2 786.4,1035.6 786.8,1035.9 787.1,1036.6 787.5,1036.0 787.9,1039.6 788.2,1038.6 788.6,1037.9 789.0,1037.8 789.3,1037.8 789.7,1037.8 790.0,1037.7 790.4,1036.8 790.8,1035.3 791.1,1035.2 791.5,1033.8 791.9,1033.2 792.2,1032.7 792.6,1033.0 793.0,1033.3 793.3,1033.4 793.7,1032.5 794.0,1032.8 794.4,1032.8 794.8,1032.6 795.1,1036.3 795.5,1039.2 795.9,1035.1 796.2,1030.9 796.6,1035.0 797.0,1032.3 797.3,1032.3 797.7,1031.1 798.0,1028.5 798.4,1026.8 798.8,1027.3 799.1,1027.7 799.5,1027.9 799.9,1028.1 800.2,1029.6 800.6,1029.9 801.0,1029.4 801.3,1030.4 801.7,1027.3 802.1,1026.4 802.4,1031.1 802.8,1031.3 803.1,1030.6 803.5,1030.3 803.9,1030.3 804.2,1031.3 804.6,1034.0 805.0,1034.0 805.3,1033.0 805.7,1032.5 806.1,1029.8 806.4,1029.9 806.8,1029.0 807.1,1029.2 807.5,1028.9 807.9,1028.3 808.2,1027.5 808.6,1026.2 809.0,1029.9 809.3,1035.0 809.7,1031.2 810.1,1026.3 810.4,1024.3 810.8,1024.9 811.1,1023.7 811.5,1022.4 811.9,1022.3 812.2,1018.9 812.6,1018.4 813.0,1019.1 813.3,1018.5 813.7,1016.1 814.1,1017.4 814.4,1016.8 814.8,1013.7 815.1,1015.3 815.5,1016.3 815.9,1019.8 816.2,1020.2 816.6,1018.8 817.0,1018.8 817.3,1017.3 817.7,1018.3 818.1,1016.8 818.4,1015.6 818.8,1015.2 819.2,1014.5 819.5,1014.0 819.9,1015.5 820.2,1014.3 820.6,1015.6 821.0,1014.7 821.3,1014.1 821.7,1014.0 822.1,1014.2 822.4,1015.7 822.8,1016.4 823.2,1019.1 823.5,1020.0 823.9,1019.3 824.2,1017.4 824.6,1015.5 825.0,1014.9 825.3,1014.9 825.7,1014.4 826.1,1016.1 826.4,1017.1 826.8,1016.2 827.2,1016.8 827.5,1016.8 827.9,1017.3 828.2,1017.9 828.6,1019.0 829.0,1016.4 829.3,1014.1 829.7,1009.9 830.1,1010.4 830.4,1017.3 830.8,1015.3 831.2,1014.4 831.5,1013.3 831.9,1014.2 832.2,1014.6 832.6,1015.3 833.0,1014.4 833.3,1013.4 833.7,1011.0 834.1,1011.9 834.4,1011.4 834.8,1019.6 835.2,1017.0 835.5,1014.3 835.9,1010.9 836.3,1009.8 836.6,1009.5 837.0,1007.6 837.3,1005.1 837.7,1005.8 838.1,1011.5 838.4,1008.8 838.8,1001.9 839.2,1003.9 839.5,1005.1 839.9,1006.9 840.3,1008.4 840.6,1008.1 841.0,1009.4 841.3,1007.7 841.7,1006.4 842.1,1006.6 842.4,1005.4 842.8,1004.7 843.2,1004.1 843.5,1002.9 843.9,1003.6 844.3,1002.0 844.6,999.5 845.0,998.5 845.3,998.4 845.7,999.1 846.1,997.9 846.4,999.2 846.8,999.6 847.2,1002.7 847.5,1003.9 847.9,1002.2 848.3,1003.0 848.6,1003.3 849.0,1002.5 849.3,1002.2 849.7,1001.1 850.1,1000.4 850.4,1002.0 850.8,1004.9 851.2,1005.7 851.5,1005.5 851.9,1005.3 852.3,1003.9 852.6,1004.1 853.0,1007.5 853.3,1005.6 853.7,1004.3 854.1,1004.5 854.4,999.7 854.8,1001.8 855.2,1002.0 855.5,1002.0 855.9,1004.0 856.3,1006.6 856.6,1007.9 857.0,1010.5 857.4,1009.7 857.7,1008.7 858.1,1007.3 858.4,1007.8 858.8,1006.7 859.2,1005.7 859.5,1006.4 859.9,1004.8 860.3,1005.0 860.6,1004.4 861.0,1004.5 861.4,1002.6 861.7,1002.4 862.1,1001.6 862.4,999.9 862.8,999.5 863.2,998.5 863.5,997.5 863.9,996.4 864.3,996.6 864.6,996.2 865.0,991.3 865.4,994.3 865.7,993.5 866.1,995.7 866.4,995.6 866.8,995.9 867.2,997.4 867.5,1002.4 867.9,1001.0 868.3,1000.4 868.6,999.6 869.0,998.4 869.4,998.1 869.7,1002.4 870.1,999.4 870.4,996.8 870.8,995.0 871.2,996.0 871.5,994.4 871.9,994.8 872.3,994.8 872.6,995.7 873.0,997.2 873.4,993.2 873.7,993.0 874.1,992.3 874.5,994.3 874.8,992.6 875.2,992.1 875.5,993.2 875.9,993.6 876.3,993.6 876.6,995.7 877.0,993.6 877.4,992.3 877.7,992.9 878.1,993.5 878.5,993.5 878.8,992.0 879.2,992.0 879.5,992.9 879.9,994.8 880.3,993.1 880.6,990.8 881.0,987.5 881.4,987.4 881.7,987.6 882.1,986.9 882.5,988.1 882.8,995.3 883.2,994.0 883.5,990.0 883.9,990.8 884.3,991.7 884.6,991.6 885.0,991.5 885.4,992.1 885.7,994.4 886.1,993.4 886.5,994.9 886.8,995.6 887.2,995.7 887.5,996.6 887.9,998.0 888.3,1002.6 888.6,1005.6 889.0,1009.2 889.4,1007.0 889.7,1004.0 890.1,1002.7 890.5,1003.7 890.8,1003.0 891.2,1003.2 891.6,1003.3 891.9,1007.4 892.3,1012.5 892.6,1017.2 893.0,1016.3 893.4,1008.2 893.7,1004.3 894.1,1005.8 894.5,1005.6 894.8,1005.3 895.2,1007.5 895.6,1008.6 895.9,1007.2 896.3,1005.5 896.6,1005.0 897.0,1005.2 897.4,1006.5 897.7,1005.0 898.1,1005.0 898.5,1005.2 898.8,1006.5 899.2,1006.7 899.6,1003.1 899.9,1003.1 900.3,1002.1 900.6,1002.8 901.0,1002.9 901.4,1001.3 901.7,999.8 902.1,998.6 902.5,1000.0 902.8,999.1 903.2,995.9 903.6,993.1 903.9,994.1 904.3,996.9 904.6,997.6 905.0,997.3 905.4,999.2 905.7,1001.3 906.1,1002.0 906.5,1002.8 906.8,1002.8 907.2,1003.7 907.6,1002.1 907.9,1003.8 908.3,1005.0 908.7,1006.2 909.0,1005.6 909.4,1004.4 909.7,1006.9 910.1,1006.7 910.5,1007.3 910.8,1007.4 911.2,1008.4 911.6,1008.7 911.9,1009.4 912.3,1010.3 912.7,1012.4 913.0,1012.3 913.4,1014.1 913.7,1017.2 914.1,1018.2 914.5,1019.7 914.8,1020.3 915.2,1021.2 915.6,1020.8 915.9,1018.7 916.3,1020.2 916.7,1019.1 917.0,1019.9 917.4,1021.5 917.7,1020.5 918.1,1020.3 918.5,1019.5 918.8,1020.8 919.2,1018.5 919.6,1019.4 919.9,1019.4 920.3,1020.2 920.7,1019.5 921.0,1022.6 921.4,1023.6 921.7,1024.2 922.1,1025.3 922.5,1027.3 922.8,1030.4 923.2,1030.0 923.6,1030.6 923.9,1028.1 924.3,1028.5 924.7,1030.5 925.0,1029.1 925.4,1030.8 925.7,1030.9 926.1,1033.1 926.5,1035.3 926.8,1038.2 927.2,1035.7 927.6,1034.0 927.9,1032.4 928.3,1032.6 928.7,1031.5 929.0,1027.6 929.4,1026.7 929.8,1025.8 930.1,1025.5 930.5,1026.1 930.8,1024.2 931.2,1023.7 931.6,1022.3 931.9,1020.8 932.3,1022.0 932.7,1022.3 933.0,1023.2 933.4,1017.8 933.8,1014.5 934.1,1018.0 934.5,1020.3 934.8,1020.7 935.2,1018.6 935.6,1018.3 935.9,1014.6 936.3,1013.3 936.7,1011.8 937.0,1013.3 937.4,1013.9 937.8,1014.9 938.1,1014.8 938.5,1012.3 938.8,1013.4 939.2,1015.4 939.6,1017.4 939.9,1018.5 940.3,1018.7 940.7,1017.5 941.0,1017.2 941.4,1023.1 941.8,1025.3 942.1,1026.0 942.5,1029.4 942.8,1027.7 943.2,1025.9 943.6,1025.2 943.9,1024.4 944.3,1024.1 944.7,1024.9 945.0,1026.2 945.4,1029.6 945.8,1025.3 946.1,1025.2 946.5,1024.9 946.9,1027.9 947.2,1030.1 947.6,1031.6 947.9,1030.5 948.3,1031.7 948.7,1032.0 949.0,1033.2 949.4,1030.7 949.8,1029.3 950.1,1028.2 950.5,1031.8 950.9,1033.6 951.2,1036.7 951.6,1036.8 951.9,1039.9 952.3,1041.6 952.7,1043.0 953.0,1043.0 953.4,1039.9 953.8,1039.1 954.1,1038.2 954.5,1037.4 954.9,1036.6 955.2,1035.0 955.6,1034.2 955.9,1034.9 956.3,1035.4 956.7,1033.7 957.0,1033.3 957.4,1032.1 957.8,1031.1 958.1,1032.0 958.5,1030.8 958.9,1028.5 959.2,1029.3 959.6,1026.9 959.9,1029.5 960.3,1032.8 960.7,1029.0 961.0,1027.6 961.4,1026.8 961.8,1024.1 962.1,1025.1 962.5,1024.5 962.9,1025.5 963.2,1026.5 963.6,1026.9 964.0,1025.1 964.3,1028.0 964.7,1028.2 965.0,1026.9 965.4,1027.1 965.8,1026.7 966.1,1025.6 966.5,1023.6 966.9,1021.0 967.2,1020.6 967.6,1019.9 968.0,1021.0 968.3,1023.5 968.7,1025.0 969.0,1025.3 969.4,1026.2 969.8,1026.8 970.1,1026.0 970.5,1023.3 970.9,1025.4 971.2,1028.6 971.6,1030.9 972.0,1031.1 972.3,1032.8 972.7,1032.3 973.0,1029.9 973.4,1027.8 973.8,1026.0 974.1,1029.0 974.5,1027.3 974.9,1024.7 975.2,1023.7 975.6,1029.7 976.0,1027.8 976.3,1026.6 976.7,1027.0 977.0,1027.8 977.4,1023.6 977.8,1022.6 978.1,1019.9 978.5,1018.6 978.9,1018.5 979.2,1019.8 979.6,1028.8 980.0,1029.1 980.3,1026.1 980.7,1024.0 981.0,1022.3 981.4,1019.4 981.8,1019.5 982.1,1020.3 982.5,1013.8 982.9,1015.2 983.2,1016.1 983.6,1018.6 984.0,1019.7 984.3,1019.3 984.7,1020.3 985.1,1020.8 985.4,1019.4 985.8,1020.8 986.1,1020.1 986.5,1020.2 986.9,1020.3 987.2,1021.4 987.6,1020.2 988.0,1020.7 988.3,1031.7 988.7,1028.5 989.1,1027.3 989.4,1023.2 989.8,1021.8 990.1,1023.0 990.5,1022.0 990.9,1021.0 991.2,1021.6 991.6,1023.4 992.0,1022.9 992.3,1022.9 992.7,1026.2 993.1,1030.1 993.4,1026.4 993.8,1020.8 994.1,1019.4 994.5,1019.1 994.9,1016.7 995.2,1018.4 995.6,1018.6 996.0,1017.8 996.3,1019.0 996.7,1019.2 997.1,1021.5 997.4,1018.2 997.8,1014.9 998.1,1015.8 998.5,1015.7 998.9,1016.2 999.2,1017.5 999.6,1022.9 1000.0,1022.1 1000.3,1022.7 1000.7,1023.6 1001.1,1023.1 1001.4,1022.1 1001.8,1019.8 1002.2,1019.0 1002.5,1020.2 1002.9,1019.3 1003.2,1019.4 1003.6,1021.3 1004.0,1021.0 1004.3,1020.0 1004.7,1018.1 1005.1,1017.7 1005.4,1015.2 1005.8,1013.1 1006.2,1015.5 1006.5,1014.6 1006.9,1016.6 1007.2,1017.8 1007.6,1019.6 1008.0,1020.0 1008.3,1019.0 1008.7,1017.7 1009.1,1017.1 1009.4,1016.7 1009.8,1017.1 1010.2,1021.5 1010.5,1019.5 1010.9,1017.8 1011.2,1016.8 1011.6,1017.5 1012.0,1015.3 1012.3,1015.8 1012.7,1016.3 1013.1,1015.8 1013.4,1012.7 1013.8,1010.7 1014.2,1009.7 1014.5,1008.0 1014.9,1007.9 1015.2,1008.9 1015.6,1008.2 1016.0,1006.3 1016.3,1005.4 1016.7,1007.1 1017.1,1006.8 1017.4,1007.2 1017.8,1006.4 1018.2,1005.6 1018.5,1003.4 1018.9,1003.0 1019.3,1002.7 1019.6,1002.7 1020.0,1003.5 1020.3,1005.2 1020.7,1007.4 1021.1,1009.1 1021.4,1007.1 1021.8,1004.7 1022.2,1001.6 1022.5,998.1 1022.9,996.3 1023.3,995.9 1023.6,995.3 1024.0,995.7 1024.3,995.3 1024.7,993.0 1025.1,991.1 1025.4,994.2 1025.8,995.4 1026.2,995.8 1026.5,997.1 1026.9,997.9 1027.3,997.5 1027.6,997.8 1028.0,997.5 1028.3,995.1 1028.7,996.2 1029.1,995.6 1029.4,996.5 1029.8,998.6 1030.2,997.2 1030.5,997.7 1030.9,998.9 1031.3,1000.6 1031.6,1000.1 1032.0,1000.2 1032.3,1001.6 1032.7,1001.1 1033.1,1002.3 1033.4,1002.2 1033.8,1002.3 1034.2,998.6 1034.5,999.4 1034.9,1002.8 1035.3,1002.7 1035.6,1003.8 1036.0,1004.1 1036.3,1000.6 1036.7,1000.8 1037.1,1002.3 1037.4,1003.1 1037.8,1003.3 1038.2,1003.1 1038.5,1003.4 1038.9,1004.3 1039.3,1002.3 1039.6,1002.7 1040.0,1002.3 1040.4,1003.7 1040.7,1007.9 1041.1,1009.0 1041.4,1005.2 1041.8,1006.3 1042.2,1006.4 1042.5,1006.2 1042.9,1005.1 1043.3,1008.9 1043.6,1008.7 1044.0,1009.1 1044.4,1012.0 1044.7,1014.4 1045.1,1018.2 1045.4,1016.6 1045.8,1015.6 1046.2,1013.8 1046.5,1012.7 1046.9,1009.2 1047.3,1007.9 1047.6,1008.8 1048.0,1008.8 1048.4,1008.0 1048.7,1007.8 1049.1,1008.8 1049.4,1009.6 1049.8,1009.7 1050.2,1008.8 1050.5,1008.2 1050.9,1008.5 1051.3,1011.1 1051.6,1013.2 1052.0,1010.3 1052.4,1007.8 1052.7,1006.4 1053.1,1004.3 1053.4,1001.7 1053.8,1001.7 1054.2,1000.6 1054.5,1000.3 1054.9,998.8 1055.3,1006.0 1055.6,1003.6 1056.0,1002.7 1056.4,1001.4 1056.7,1003.1 1057.1,999.4 1057.5,995.3 1057.8,993.5 1058.2,993.6 1058.5,992.9 1058.9,992.1 1059.3,992.9 1059.6,988.2 1060.0,988.0 1060.4,988.0 1060.7,988.4 1061.1,988.4 1061.5,989.1 1061.8,988.5 1062.2,990.0 1062.5,989.6 1062.9,989.5 1063.3,989.5 1063.6,990.1 1064.0,990.0" fill="none" stroke="#aaaaaa" stroke-width="4.8" stroke-linejoin="miter" stroke-miterlimit="10"/>
<path d="M149.0,1165.7 149.4,1165.9 149.7,1166.0 150.1,1165.7 150.5,1166.0 150.8,1166.0 151.2,1166.0 151.5,1166.7 151.9,1166.8 152.3,1168.5 152.6,1169.3 153.0,1169.0 153.4,1169.1 153.7,1168.3 154.1,1168.0 154.5,1168.6 154.8,1170.2 155.2,1172.3 155.5,1172.6 155.9,1173.4 156.3,1173.9 156.6,1175.3 157.0,1175.6 157.4,1174.5 157.7,1175.3 158.1,1174.7 158.5,1176.4 158.8,1175.3 159.2,1174.5 159.6,1173.6 159.9,1172.1 160.3,1170.5 160.6,1169.4 161.0,1170.0 161.4,1170.9 161.7,1168.7 162.1,1169.0 162.5,1166.8 162.8,1165.5 163.2,1163.4 163.6,1161.7 163.9,1160.8 164.3,1159.7 164.6,1159.3 165.0,1157.5 165.4,1157.4 165.7,1156.6 166.1,1158.1 166.5,1156.9 166.8,1158.3 167.2,1158.3 167.6,1157.7 167.9,1156.9 168.3,1156.4 168.6,1156.1 169.0,1156.0 169.4,1154.6 169.7,1154.6 170.1,1154.3 170.5,1153.3 170.8,1152.2 171.2,1151.5 171.6,1151.8 171.9,1151.2 172.3,1150.4 172.6,1156.5 173.0,1155.0 173.4,1152.4 173.7,1153.1 174.1,1155.3 174.5,1155.7 174.8,1156.1 175.2,1157.3 175.6,1157.8 175.9,1157.7 176.3,1155.8 176.7,1154.8 177.0,1156.0 177.4,1156.4 177.7,1157.4 178.1,1157.4 178.5,1158.1 178.8,1159.6 179.2,1160.2 179.6,1160.1 179.9,1164.5 180.3,1168.6 180.7,1164.8 181.0,1162.1 181.4,1160.3 181.7,1161.0 182.1,1160.9 182.5,1163.8 182.8,1168.5 183.2,1166.9 183.6,1164.2 183.9,1162.3 184.3,1161.1 184.7,1159.2 185.0,1158.9 185.4,1158.2 185.7,1158.0 186.1,1156.6 186.5,1155.7 186.8,1154.6 187.2,1153.1 187.6,1152.5 187.9,1152.2 188.3,1155.1 188.7,1153.8 189.0,1151.5 189.4,1149.6 189.7,1148.9 190.1,1147.7 190.5,1148.5 190.8,1148.2 191.2,1148.0 191.6,1147.0 191.9,1146.7 192.3,1149.0 192.7,1150.6 193.0,1151.8 193.4,1148.7 193.7,1146.1 194.1,1140.4 194.5,1139.8 194.8,1139.3 195.2,1141.8 195.6,1145.3 195.9,1143.9 196.3,1142.4 196.7,1138.9 197.0,1137.7 197.4,1138.2 197.8,1136.6 198.1,1134.6 198.5,1137.9 198.8,1139.2 199.2,1138.5 199.6,1135.7 199.9,1132.7 200.3,1132.7 200.7,1133.1 201.0,1132.8 201.4,1131.8 201.8,1135.6 202.1,1134.2 202.5,1133.0 202.8,1132.3 203.2,1131.7 203.6,1131.7 203.9,1132.2 204.3,1131.9 204.7,1131.1 205.0,1131.9 205.4,1130.4 205.8,1129.5 206.1,1128.3 206.5,1127.9 206.8,1127.7 207.2,1127.0 207.6,1127.7 207.9,1127.9 208.3,1127.6 208.7,1128.2 209.0,1128.6 209.4,1138.4 209.8,1134.1 210.1,1128.4 210.5,1129.1 210.8,1129.3 211.2,1129.3 211.6,1128.2 211.9,1127.7 212.3,1126.8 212.7,1124.6 213.0,1125.2 213.4,1125.5 213.8,1125.8 214.1,1131.5 214.5,1130.4 214.9,1129.6 215.2,1129.1 215.6,1126.7 215.9,1126.9 216.3,1126.6 216.7,1128.0 217.0,1127.9 217.4,1126.9 217.8,1127.4 218.1,1127.4 218.5,1130.0 218.9,1132.5 219.2,1135.4 219.6,1134.5 219.9,1134.0 220.3,1133.0 220.7,1131.7 221.0,1131.1 221.4,1131.5 221.8,1131.2 222.1,1130.9 222.5,1130.2 222.9,1129.1 223.2,1128.8 223.6,1127.9 223.9,1129.2 224.3,1130.1 224.7,1129.1 225.0,1128.8 225.4,1127.3 225.8,1126.1 226.1,1126.1 226.5,1125.2 226.9,1130.0 227.2,1128.4 227.6,1128.0 227.9,1127.4 228.3,1125.9 228.7,1127.1 229.0,1126.4 229.4,1126.1 229.8,1126.1 230.1,1124.4 230.5,1123.6 230.9,1121.4 231.2,1123.4 231.6,1124.3 232.0,1122.8 232.3,1123.1 232.7,1121.5 233.0,1121.1 233.4,1121.9 233.8,1123.5 234.1,1124.0 234.5,1124.0 234.9,1124.6 235.2,1126.6 235.6,1128.2 236.0,1128.1 236.3,1129.7 236.7,1130.4 237.0,1130.9 237.4,1129.9 237.8,1128.6 238.1,1128.5 238.5,1128.1 238.9,1127.0 239.2,1126.7 239.6,1126.5 240.0,1127.2 240.3,1126.4 240.7,1125.7 241.0,1123.6 241.4,1123.0 241.8,1122.0 242.1,1121.1 242.5,1120.0 242.9,1119.5 243.2,1118.3 243.6,1116.6 244.0,1115.8 244.3,1120.0 244.7,1118.8 245.0,1117.0 245.4,1114.3 245.8,1114.6 246.1,1115.4 246.5,1113.7 246.9,1114.3 247.2,1114.2 247.6,1113.1 248.0,1112.1 248.3,1112.3 248.7,1110.8 249.0,1110.6 249.4,1109.4 249.8,1108.7 250.1,1108.9 250.5,1107.9 250.9,1107.0 251.2,1105.4 251.6,1105.1 252.0,1105.1 252.3,1102.7 252.7,1103.6 253.1,1104.5 253.4,1107.6 253.8,1105.8 254.1,1102.4 254.5,1099.1 254.9,1097.8 255.2,1097.7 255.6,1096.8 256.0,1097.9 256.3,1097.0 256.7,1095.4 257.1,1096.0 257.4,1095.0 257.8,1094.5 258.1,1093.2 258.5,1091.9 258.9,1092.0 259.2,1091.2 259.6,1090.9 260.0,1089.9 260.3,1089.4 260.7,1089.7 261.1,1088.0 261.4,1088.5 261.8,1086.7 262.1,1086.1 262.5,1085.3 262.9,1084.6 263.2,1084.3 263.6,1086.7 264.0,1087.4 264.3,1089.9 264.7,1086.2 265.1,1084.4 265.4,1082.9 265.8,1080.7 266.1,1081.3 266.5,1081.6 266.9,1082.6 267.2,1083.8 267.6,1084.9 268.0,1081.8 268.3,1079.5 268.7,1078.4 269.1,1078.9 269.4,1079.0 269.8,1077.7 270.2,1077.4 270.5,1076.5 270.9,1076.4 271.2,1075.5 271.6,1074.3 272.0,1075.3 272.3,1075.1 272.7,1076.5 273.1,1077.1 273.4,1078.4 273.8,1077.9 274.2,1078.0 274.5,1076.8 274.9,1078.1 275.2,1080.6 275.6,1077.7 276.0,1072.8 276.3,1071.7 276.7,1075.2 277.1,1073.4 277.4,1071.0 277.8,1072.1 278.2,1070.5 278.5,1071.3 278.9,1071.3 279.2,1070.8 279.6,1070.7 280.0,1068.9 280.3,1070.9 280.7,1073.5 281.1,1076.7 281.4,1074.9 281.8,1073.5 282.2,1072.7 282.5,1071.9 282.9,1071.6 283.2,1072.8 283.6,1072.7 284.0,1072.2 284.3,1073.4 284.7,1073.2 285.1,1071.4 285.4,1073.8 285.8,1072.2 286.2,1074.6 286.5,1074.1 286.9,1073.6 287.3,1073.5 287.6,1072.9 288.0,1072.1 288.3,1072.3 288.7,1072.7 289.1,1071.8 289.4,1073.5 289.8,1075.8 290.2,1076.3 290.5,1076.4 290.9,1075.9 291.3,1076.9 291.6,1075.3 292.0,1074.9 292.3,1075.1 292.7,1075.1 293.1,1075.4 293.4,1076.6 293.8,1075.6 294.2,1076.4 294.5,1076.2 294.9,1076.6 295.3,1077.3 295.6,1077.3 296.0,1077.7 296.3,1077.0 296.7,1076.1 297.1,1078.2 297.4,1080.9 297.8,1083.3 298.2,1083.7 298.5,1081.8 298.9,1082.7 299.3,1083.2 299.6,1083.5 300.0,1085.4 300.3,1086.4 300.7,1087.5 301.1,1087.9 301.4,1089.1 301.8,1091.5 302.2,1093.0 302.5,1092.8 302.9,1095.2 303.3,1093.2 303.6,1092.1 304.0,1091.4 304.3,1090.5 304.7,1089.7 305.1,1090.0 305.4,1092.1 305.8,1093.9 306.2,1096.8 306.5,1095.5 306.9,1094.8 307.3,1092.9 307.6,1094.6 308.0,1094.7 308.4,1093.7 308.7,1093.6 309.1,1092.9 309.4,1092.0 309.8,1091.2 310.2,1089.3 310.5,1089.5 310.9,1090.0 311.3,1088.3 311.6,1088.1 312.0,1086.6 312.4,1087.7 312.7,1087.4 313.1,1085.7 313.4,1084.3 313.8,1081.9 314.2,1081.4 314.5,1080.4 314.9,1079.3 315.3,1080.2 315.6,1079.6 316.0,1078.4 316.4,1079.9 316.7,1080.4 317.1,1081.9 317.4,1083.1 317.8,1083.2 318.2,1083.9 318.5,1081.2 318.9,1080.1 319.3,1078.3 319.6,1076.4 320.0,1077.6 320.4,1076.8 320.7,1077.5 321.1,1077.8 321.4,1076.4 321.8,1077.5 322.2,1078.1 322.5,1087.3 322.9,1084.2 323.3,1083.4 323.6,1081.5 324.0,1077.5 324.4,1077.6 324.7,1079.4 325.1,1078.1 325.5,1077.4 325.8,1077.4 326.2,1077.2 326.5,1076.6 326.9,1076.2 327.3,1076.1 327.6,1076.2 328.0,1076.4 328.4,1076.9 328.7,1076.9 329.1,1077.8 329.5,1077.1 329.8,1076.2 330.2,1075.2 330.5,1077.4 330.9,1081.6 331.3,1085.2 331.6,1081.0 332.0,1079.8 332.4,1078.3 332.7,1076.4 333.1,1080.4 333.5,1080.0 333.8,1080.0 334.2,1079.8 334.5,1080.7 334.9,1080.1 335.3,1082.1 335.6,1083.9 336.0,1085.2 336.4,1086.8 336.7,1088.0 337.1,1087.3 337.5,1088.6 337.8,1090.7 338.2,1092.1 338.5,1093.1 338.9,1094.0 339.3,1093.4 339.6,1095.1 340.0,1095.9 340.4,1094.3 340.7,1094.9 341.1,1092.5 341.5,1091.8 341.8,1091.4 342.2,1092.3 342.6,1091.7 342.9,1091.3 343.3,1086.9 343.6,1087.0 344.0,1087.5 344.4,1087.2 344.7,1086.6 345.1,1086.5 345.5,1088.2 345.8,1089.1 346.2,1090.8 346.6,1085.2 346.9,1082.3 347.3,1083.4 347.6,1080.5 348.0,1078.4 348.4,1076.0 348.7,1074.9 349.1,1074.1 349.5,1073.3 349.8,1070.8 350.2,1070.5 350.6,1072.6 350.9,1074.4 351.3,1071.0 351.6,1067.8 352.0,1068.2 352.4,1068.2 352.7,1067.4 353.1,1067.9 353.5,1067.7 353.8,1067.2 354.2,1066.7 354.6,1066.9 354.9,1070.7 355.3,1069.5 355.6,1063.2 356.0,1062.2 356.4,1060.5 356.7,1061.5 357.1,1061.9 357.5,1062.4 357.8,1061.1 358.2,1060.8 358.6,1059.8 358.9,1057.7 359.3,1056.9 359.7,1056.5 360.0,1056.9 360.4,1055.5 360.7,1056.9 361.1,1059.5 361.5,1057.1 361.8,1056.3 362.2,1053.9 362.6,1055.0 362.9,1054.3 363.3,1055.3 363.7,1056.4 364.0,1057.8 364.4,1059.0 364.7,1060.7 365.1,1061.2 365.5,1060.7 365.8,1060.8 366.2,1059.9 366.6,1058.9 366.9,1059.7 367.3,1060.2 367.7,1059.6 368.0,1059.4 368.4,1061.3 368.7,1060.4 369.1,1063.0 369.5,1062.7 369.8,1062.7 370.2,1061.0 370.6,1063.1 370.9,1060.8 371.3,1056.9 371.7,1056.9 372.0,1056.6 372.4,1056.5 372.7,1056.5 373.1,1058.4 373.5,1057.7 373.8,1056.7 374.2,1056.3 374.6,1055.1 374.9,1054.4 375.3,1054.1 375.7,1055.4 376.0,1055.6 376.4,1054.6 376.7,1055.3 377.1,1054.9 377.5,1054.8 377.8,1052.3 378.2,1051.1 378.6,1050.9 378.9,1049.9 379.3,1048.7 379.7,1047.9 380.0,1047.2 380.4,1047.9 380.8,1050.4 381.1,1051.3 381.5,1051.5 381.8,1050.2 382.2,1050.0 382.6,1049.7 382.9,1049.6 383.3,1050.2 383.7,1049.6 384.0,1050.1 384.4,1050.4 384.8,1048.9 385.1,1049.4 385.5,1048.3 385.8,1049.2 386.2,1048.6 386.6,1047.5 386.9,1048.8 387.3,1048.5 387.7,1050.6 388.0,1051.6 388.4,1051.8 388.8,1052.2 389.1,1053.0 389.5,1052.4 389.8,1054.2 390.2,1054.5 390.6,1054.3 390.9,1052.7 391.3,1053.6 391.7,1054.7 392.0,1053.3 392.4,1052.6 392.8,1053.4 393.1,1053.5 393.5,1055.6 393.8,1054.3 394.2,1053.4 394.6,1052.8 394.9,1052.8 395.3,1053.3 395.7,1053.0 396.0,1053.2 396.4,1053.4 396.8,1053.5 397.1,1054.0 397.5,1058.0 397.9,1058.0 398.2,1058.5 398.6,1059.0 398.9,1058.3 399.3,1060.0 399.7,1059.9 400.0,1060.7 400.4,1059.5 400.8,1059.2 401.1,1059.6 401.5,1059.9 401.9,1059.8 402.2,1061.0 402.6,1062.9 402.9,1067.3 403.3,1064.6 403.7,1060.6 404.0,1060.4 404.4,1059.5 404.8,1059.9 405.1,1058.3 405.5,1060.0 405.9,1060.8 406.2,1059.9 406.6,1058.8 406.9,1058.0 407.3,1060.8 407.7,1064.6 408.0,1064.1 408.4,1063.5 408.8,1071.7 409.1,1068.8 409.5,1068.2 409.9,1065.8 410.2,1065.0 410.6,1062.0 410.9,1061.2 411.3,1060.8 411.7,1061.2 412.0,1059.7 412.4,1059.6 412.8,1060.0 413.1,1059.7 413.5,1057.5 413.9,1058.5 414.2,1057.1 414.6,1058.3 415.0,1056.2 415.3,1055.5 415.7,1055.2 416.0,1056.4 416.4,1056.3 416.8,1059.8 417.1,1057.9 417.5,1057.9 417.9,1057.2 418.2,1057.3 418.6,1056.4 419.0,1055.4 419.3,1055.6 419.7,1059.4 420.0,1066.2 420.4,1064.2 420.8,1059.8 421.1,1055.9 421.5,1060.0 421.9,1058.6 422.2,1057.9 422.6,1056.6 423.0,1054.9 423.3,1056.0 423.7,1054.8 424.0,1053.7 424.4,1053.4 424.8,1054.7 425.1,1054.8 425.5,1053.7 425.9,1053.9 426.2,1051.3 426.6,1050.8 427.0,1049.7 427.3,1050.8 427.7,1049.1 428.0,1046.9 428.4,1045.2 428.8,1045.0 429.1,1044.8 429.5,1044.5 429.9,1044.1 430.2,1044.5 430.6,1045.0 431.0,1045.4 431.3,1045.4 431.7,1044.3 432.0,1045.3 432.4,1047.4 432.8,1047.7 433.1,1045.8 433.5,1046.2 433.9,1043.4 434.2,1042.2 434.6,1041.7 435.0,1040.6 435.3,1040.7 435.7,1041.1 436.1,1040.6 436.4,1039.6 436.8,1038.6 437.1,1037.4 437.5,1037.3 437.9,1036.5 438.2,1036.7 438.6,1037.1 439.0,1035.1 439.3,1034.3 439.7,1031.8 440.1,1032.0 440.4,1031.6 440.8,1031.1 441.1,1031.8 441.5,1031.2 441.9,1030.4 442.2,1029.7 442.6,1030.5 443.0,1028.0 443.3,1028.6 443.7,1025.9 444.1,1027.2 444.4,1026.8 444.8,1026.7 445.1,1025.4 445.5,1026.0 445.9,1028.1 446.2,1028.2 446.6,1028.6 447.0,1029.7 447.3,1030.1 447.7,1029.3 448.1,1031.6 448.4,1033.3 448.8,1033.8 449.1,1034.6 449.5,1031.9 449.9,1029.4 450.2,1027.8 450.6,1026.9 451.0,1026.7 451.3,1027.9 451.7,1026.3 452.1,1027.5 452.4,1027.8 452.8,1027.8 453.2,1025.9 453.5,1028.5 453.9,1027.5 454.2,1022.4 454.6,1022.6 455.0,1023.1 455.3,1022.7 455.7,1023.9 456.1,1023.8 456.4,1024.2 456.8,1027.4 457.2,1025.7 457.5,1025.8 457.9,1025.6 458.2,1025.2 458.6,1024.8 459.0,1022.7 459.3,1022.7 459.7,1023.7 460.1,1025.2 460.4,1026.6 460.8,1023.5 461.2,1022.3 461.5,1021.5 461.9,1021.5 462.2,1022.2 462.6,1021.9 463.0,1021.3 463.3,1021.5 463.7,1021.4 464.1,1022.1 464.4,1020.7 464.8,1020.0 465.2,1020.3 465.5,1022.5 465.9,1022.8 466.2,1023.7 466.6,1024.5 467.0,1022.6 467.3,1022.9 467.7,1023.4 468.1,1022.7 468.4,1023.5 468.8,1023.9 469.2,1025.8 469.5,1025.2 469.9,1024.0 470.3,1027.4 470.6,1028.7 471.0,1031.0 471.3,1029.6 471.7,1028.3 472.1,1024.9 472.4,1024.0 472.8,1023.7 473.2,1022.7 473.5,1023.0 473.9,1023.4 474.3,1022.6 474.6,1022.3 475.0,1021.5 475.3,1021.6 475.7,1020.8 476.1,1022.8 476.4,1021.1 476.8,1021.8 477.2,1022.8 477.5,1023.5 477.9,1020.7 478.3,1020.0 478.6,1018.8 479.0,1016.2 479.3,1017.3 479.7,1016.7 480.1,1016.9 480.4,1019.2 480.8,1022.2 481.2,1021.2 481.5,1017.2 481.9,1015.9 482.3,1014.1 482.6,1014.6 483.0,1014.0 483.3,1013.4 483.7,1012.7 484.1,1012.9 484.4,1011.3 484.8,1012.3 485.2,1013.3 485.5,1013.5 485.9,1015.7 486.3,1013.0 486.6,1011.4 487.0,1013.0 487.3,1011.0 487.7,1009.9 488.1,1010.5 488.4,1009.4 488.8,1008.9 489.2,1007.5 489.5,1005.6 489.9,1003.2 490.3,1002.5 490.6,1001.9 491.0,1004.3 491.4,1006.4 491.7,1009.4 492.1,1007.7 492.4,1006.3 492.8,1003.9 493.2,1004.1 493.5,1003.2 493.9,1002.8 494.3,1001.5 494.6,1001.8 495.0,1001.2 495.4,1001.0 495.7,998.6 496.1,999.2 496.4,999.8 496.8,999.4 497.2,998.7 497.5,996.6 497.9,997.6 498.3,995.3 498.6,995.6 499.0,993.2 499.4,993.7 499.7,994.0 500.1,993.7 500.4,992.2 500.8,993.3 501.2,992.7 501.5,993.4 501.9,992.9 502.3,993.4 502.6,992.0 503.0,991.1 503.4,990.7 503.7,994.3 504.1,992.2 504.4,992.8 504.8,991.5 505.2,990.9 505.5,990.5 505.9,991.3 506.3,991.1 506.6,990.6 507.0,990.3 507.4,990.3 507.7,988.9 508.1,987.9 508.5,987.7 508.8,988.3 509.2,987.3 509.5,987.1 509.9,985.2 510.3,987.8 510.6,989.3 511.0,991.2 511.4,992.5 511.7,991.6 512.1,989.7 512.5,986.5 512.8,985.1 513.2,985.3 513.5,985.2 513.9,985.0 514.3,983.9 514.6,984.2 515.0,983.8 515.4,983.6 515.7,984.0 516.1,983.6 516.5,985.3 516.8,981.5 517.2,979.8 517.5,980.0 517.9,980.4 518.3,978.2 518.6,977.0 519.0,975.8 519.4,975.4 519.7,976.4 520.1,976.4 520.5,978.0 520.8,982.5 521.2,987.1 521.5,984.4 521.9,980.1 522.3,980.2 522.6,981.7 523.0,982.6 523.4,983.6 523.7,985.7 524.1,989.0 524.5,993.5 524.8,989.4 525.2,990.0 525.6,989.3 525.9,989.2 526.3,988.6 526.6,987.3 527.0,986.5 527.4,986.4 527.7,986.1 528.1,985.2 528.5,987.2 528.8,985.5 529.2,986.4 529.6,981.8 529.9,978.0 530.3,975.0 530.6,977.7 531.0,979.8 531.4,978.6 531.7,979.2 532.1,978.0 532.5,976.6 532.8,975.9 533.2,976.2 533.6,977.7 533.9,975.5 534.3,975.6 534.6,976.3 535.0,977.9 535.4,978.4 535.7,979.7 536.1,980.3 536.5,982.8 536.8,983.3 537.2,983.0 537.6,983.3 537.9,984.3 538.3,984.0 538.6,984.0 539.0,983.5 539.4,983.1 539.7,983.7 540.1,984.6 540.5,985.8 540.8,986.1 541.2,986.4 541.6,984.6 541.9,984.6 542.3,983.3 542.7,984.4 543.0,983.6 543.4,982.9 543.7,982.3 544.1,981.7 544.5,981.7 544.8,979.9 545.2,980.3 545.6,980.8 545.9,981.1 546.3,981.9 546.7,980.8 547.0,980.6 547.4,979.1 547.7,979.2 548.1,979.2 548.5,977.9 548.8,977.0 549.2,976.4 549.6,976.1 549.9,976.7 550.3,976.3 550.7,975.6 551.0,974.1 551.4,974.9 551.7,975.8 552.1,975.8 552.5,975.9 552.8,978.2 553.2,977.5 553.6,977.2 553.9,976.6 554.3,975.4 554.7,973.5 555.0,974.9 555.4,975.9 555.7,975.7 556.1,974.6 556.5,974.2 556.8,975.1 557.2,975.6 557.6,977.5 557.9,977.9 558.3,979.4 558.7,979.2 559.0,979.7 559.4,979.1 559.7,978.0 560.1,976.5 560.5,975.6 560.8,974.2 561.2,974.3 561.6,974.2 561.9,974.2 562.3,972.9 562.7,971.5 563.0,971.0 563.4,969.0 563.8,969.6 564.1,970.5 564.5,969.2 564.8,969.4 565.2,970.9 565.6,971.7 565.9,972.7 566.3,972.2 566.7,973.6 567.0,974.0 567.4,973.2 567.8,973.5 568.1,974.7 568.5,973.3 568.8,972.1 569.2,972.4 569.6,971.9 569.9,973.4 570.3,972.8 570.7,975.0 571.0,974.3 571.4,974.6 571.8,975.8 572.1,976.8 572.5,977.1 572.8,978.3 573.2,978.1 573.6,984.1 573.9,985.9 574.3,984.7 574.7,982.5 575.0,980.3 575.4,981.2 575.8,981.0 576.1,979.0 576.5,978.6 576.8,978.9 577.2,978.3 577.6,980.5 577.9,981.6 578.3,981.5 578.7,981.8 579.0,981.8 579.4,981.8 579.8,979.6 580.1,978.9 580.5,983.2 580.9,983.1 581.2,981.3 581.6,980.2 581.9,979.6 582.3,979.2 582.7,977.8 583.0,979.7 583.4,981.5 583.8,983.9 584.1,985.8 584.5,988.7 584.9,989.8 585.2,993.2 585.6,993.5 585.9,995.9 586.3,996.9 586.7,996.3 587.0,997.6 587.4,998.1 587.8,998.9 588.1,998.3 588.5,1001.6 588.9,1004.6 589.2,1003.3 589.6,1002.8 589.9,1000.8 590.3,1001.4 590.7,1001.5 591.0,1003.6 591.4,1002.8 591.8,1004.2 592.1,1003.3 592.5,1004.5 592.9,1006.4 593.2,1006.6 593.6,1004.1 593.9,1004.2 594.3,1003.6 594.7,1005.0 595.0,1008.3 595.4,1008.1 595.8,1004.2 596.1,1005.6 596.5,1004.3 596.9,1004.1 597.2,1002.2 597.6,1000.7 598.0,998.1 598.3,998.5 598.7,999.1 599.0,999.3 599.4,998.3 599.8,997.2 600.1,997.6 600.5,1007.3 600.9,1005.3 601.2,1003.6 601.6,1000.8 602.0,1000.7 602.3,999.7 602.7,999.7 603.0,1001.5 603.4,1004.9 603.8,1005.7 604.1,1005.4 604.5,1006.1 604.9,1006.3 605.2,1007.4 605.6,1008.2 606.0,1007.5 606.3,1009.3 606.7,1010.3 607.0,1010.2 607.4,1008.6 607.8,1007.0 608.1,1008.9 608.5,1009.7 608.9,1005.8 609.2,1005.3 609.6,1002.9 610.0,1000.6 610.3,996.7 610.7,996.0 611.0,995.2 611.4,993.8 611.8,992.6 612.1,989.8 612.5,991.0 612.9,992.0 613.2,989.9 613.6,988.2 614.0,987.2 614.3,986.7 614.7,985.1 615.0,985.3 615.4,983.0 615.8,983.7 616.1,982.4 616.5,982.5 616.9,981.9 617.2,981.8 617.6,981.0 618.0,980.1 618.3,980.9 618.7,981.2 619.1,979.4 619.4,979.7 619.8,978.6 620.1,979.3 620.5,977.4 620.9,975.7 621.2,977.6 621.6,978.2 622.0,977.2 622.3,977.9 622.7,977.4 623.1,975.3 623.4,974.5 623.8,973.0 624.1,973.8 624.5,974.8 624.9,975.6 625.2,974.6 625.6,972.1 626.0,972.3 626.3,972.7 626.7,973.7 627.1,973.1 627.4,971.6 627.8,970.9 628.1,971.7 628.5,971.1 628.9,967.8 629.2,967.4 629.6,966.3 630.0,966.6 630.3,968.2 630.7,966.9 631.1,965.8 631.4,966.0 631.8,965.7 632.1,965.5 632.5,965.2 632.9,963.6 633.2,962.2 633.6,962.0 634.0,961.0 634.3,960.2 634.7,960.1 635.1,960.6 635.4,961.2 635.8,958.2 636.2,958.7 636.5,957.7 636.9,960.5 637.2,963.4 637.6,965.7 638.0,964.6 638.3,962.7 638.7,966.5 639.1,967.1 639.4,970.0 639.8,971.6 640.2,969.3 640.5,969.3 640.9,968.5 641.2,968.8 641.6,969.6 642.0,969.6 642.3,971.7 642.7,975.5 643.1,975.5 643.4,976.5 643.8,975.0 644.2,973.9 644.5,972.0 644.9,970.9 645.2,969.9 645.6,969.1 646.0,967.7 646.3,971.6 646.7,967.6 647.1,964.8 647.4,963.3 647.8,962.9 648.2,961.5 648.5,961.6 648.9,960.2 649.2,960.0 649.6,961.9 650.0,961.9 650.3,961.2 650.7,959.2 651.1,960.5 651.4,960.0 651.8,959.9 652.2,960.0 652.5,960.2 652.9,959.6 653.3,961.3 653.6,968.0 654.0,965.2 654.3,961.3 654.7,960.2 655.1,960.8 655.4,961.4 655.8,961.5 656.2,962.6 656.5,962.2 656.9,962.1 657.3,960.4 657.6,961.1 658.0,961.0 658.3,960.5 658.7,960.2 659.1,958.9 659.4,958.3 659.8,959.5 660.2,958.9 660.5,960.1 660.9,961.7 661.3,962.6 661.6,962.4 662.0,963.4 662.3,962.6 662.7,961.8 663.1,963.8 663.4,964.6 663.8,966.5 664.2,966.9 664.5,967.3 664.9,969.0 665.3,966.8 665.6,966.4 666.0,964.9 666.3,964.2 666.7,962.6 667.1,964.7 667.4,967.7 667.8,970.0 668.2,970.7 668.5,966.4 668.9,963.0 669.3,961.2 669.6,959.4 670.0,959.2 670.3,961.8 670.7,959.6 671.1,959.0 671.4,957.9 671.8,955.9 672.2,959.4 672.5,959.0 672.9,957.5 673.3,957.6 673.6,956.8 674.0,956.1 674.4,958.6 674.7,960.9 675.1,960.4 675.4,959.1 675.8,958.2 676.2,957.4 676.5,957.3 676.9,956.2 677.3,955.3 677.6,956.2 678.0,960.3 678.4,959.7 678.7,961.8 679.1,965.3 679.4,960.4 679.8,956.4 680.2,953.1 680.5,951.9 680.9,951.3 681.3,951.1 681.6,950.4 682.0,949.4 682.4,950.4 682.7,950.1 683.1,952.5 683.4,953.6 683.8,953.0 684.2,952.1 684.5,950.1 684.9,948.8 685.3,951.4 685.6,952.0 686.0,950.5 686.4,951.6 686.7,953.6 687.1,950.4 687.4,947.9 687.8,945.7 688.2,946.6 688.5,945.8 688.9,943.9 689.3,941.4 689.6,944.4 690.0,949.1 690.4,951.3 690.7,946.7 691.1,942.8 691.5,939.5 691.8,940.3 692.2,939.5 692.5,940.3 692.9,941.4 693.3,941.1 693.6,939.0 694.0,936.8 694.4,936.3 694.7,932.3 695.1,932.0 695.5,932.2 695.8,930.8 696.2,930.7 696.5,929.7 696.9,929.2 697.3,929.0 697.6,930.7 698.0,929.7 698.4,934.1 698.7,933.3 699.1,929.3 699.5,928.5 699.8,927.6 700.2,926.9 700.5,928.0 700.9,928.3 701.3,927.0 701.6,926.3 702.0,926.7 702.4,927.6 702.7,928.8 703.1,927.1 703.5,925.3 703.8,923.4 704.2,923.7 704.5,922.6 704.9,922.9 705.3,923.4 705.6,923.4 706.0,923.3 706.4,924.8 706.7,925.0 707.1,925.6 707.5,922.1 707.8,916.6 708.2,916.2 708.6,917.3 708.9,917.3 709.3,914.2 709.6,913.8 710.0,913.6 710.4,914.0 710.7,912.8 711.1,911.3 711.5,909.5 711.8,910.2 712.2,911.4 712.6,912.3 712.9,915.1 713.3,916.7 713.6,917.3 714.0,918.2 714.4,920.4 714.7,922.1 715.1,923.6 715.5,924.6 715.8,925.7 716.2,927.7 716.6,927.9 716.9,931.2 717.3,934.8 717.6,939.7 718.0,946.8 718.4,953.2 718.7,958.3 719.1,962.1 719.5,962.9 719.8,964.2 720.2,962.1 720.6,959.7 720.9,956.4 721.3,949.7 721.6,947.8 722.0,948.0 722.4,944.5 722.7,941.0 723.1,937.6 723.5,938.2 723.8,936.1 724.2,935.4 724.6,933.2 724.9,932.9 725.3,931.9 725.7,929.9 726.0,927.8 726.4,924.3 726.7,921.8 727.1,919.8 727.5,915.3 727.8,912.5 728.2,907.0 728.6,908.6 728.9,911.3 729.3,909.8 729.7,911.2 730.0,912.3 730.4,911.7 730.7,912.3 731.1,912.4 731.5,911.4 731.8,912.6 732.2,912.9 732.6,919.4 732.9,920.0 733.3,922.7 733.7,918.0 734.0,914.0 734.4,907.4 734.7,903.1 735.1,901.9 735.5,897.9 735.8,896.7 736.2,895.5 736.6,893.8 736.9,892.7 737.3,890.2 737.7,888.2 738.0,888.2 738.4,887.0 738.7,886.2 739.1,885.4 739.5,884.2 739.8,882.3 740.2,881.6 740.6,881.0 740.9,881.9 741.3,882.4 741.7,881.2 742.0,881.0 742.4,880.0 742.7,877.3 743.1,877.4 743.5,875.5 743.8,874.9 744.2,874.4 744.6,873.7 744.9,873.7 745.3,873.4 745.7,870.7 746.0,867.9 746.4,869.2 746.8,870.5 747.1,871.2 747.5,871.0 747.8,871.8 748.2,871.6 748.6,872.4 748.9,876.2 749.3,874.9 749.7,873.7 750.0,873.0 750.4,872.2 750.8,873.8 751.1,875.0 751.5,878.8 751.8,877.5 752.2,876.1 752.6,874.4 752.9,872.5 753.3,871.8 753.7,871.5 754.0,869.8 754.4,868.0 754.8,868.1 755.1,866.8 755.5,865.7 755.8,865.5 756.2,866.3 756.6,866.1 756.9,863.6 757.3,862.4 757.7,861.6 758.0,860.7 758.4,861.1 758.8,862.3 759.1,862.4 759.5,862.2 759.8,861.5 760.2,860.3 760.6,859.5 760.9,860.0 761.3,859.5 761.7,859.5 762.0,856.8 762.4,859.7 762.8,860.0 763.1,859.5 763.5,859.2 763.9,858.0 764.2,859.4 764.6,859.0 764.9,857.2 765.3,855.9 765.7,856.4 766.0,854.6 766.4,853.9 766.8,854.3 767.1,854.7 767.5,856.2 767.9,854.0 768.2,857.7 768.6,856.8 768.9,854.8 769.3,851.8 769.7,854.6 770.0,851.8 770.4,851.9 770.8,850.4 771.1,851.5 771.5,853.1 771.9,853.4 772.2,853.2 772.6,853.4 772.9,852.2 773.3,851.4 773.7,849.7 774.0,851.1 774.4,849.2 774.8,846.8 775.1,847.1 775.5,846.3 775.9,845.0 776.2,845.3 776.6,843.9 776.9,840.6 777.3,840.4 777.7,839.9 778.0,839.6 778.4,839.1 778.8,838.9 779.1,839.2 779.5,838.9 779.9,838.0 780.2,839.7 780.6,838.3 781.0,838.0 781.3,837.5 781.7,836.7 782.0,836.0 782.4,834.4 782.8,832.7 783.1,832.5 783.5,832.3 783.9,831.2 784.2,830.3 784.6,830.1 785.0,828.1 785.3,828.9 785.7,828.4 786.0,828.0 786.4,826.7 786.8,827.8 787.1,827.9 787.5,826.7 787.9,826.0 788.2,824.6 788.6,822.5 789.0,822.4 789.3,822.2 789.7,820.4 790.0,814.8 790.4,816.1 790.8,815.9 791.1,814.9 791.5,815.6 791.9,815.1 792.2,815.3 792.6,814.8 793.0,815.6 793.3,817.0 793.7,816.5 794.0,815.2 794.4,813.1 794.8,812.7 795.1,812.3 795.5,811.9 795.9,812.4 796.2,811.1 796.6,811.7 797.0,811.1 797.3,809.6 797.7,809.0 798.0,810.1 798.4,809.4 798.8,807.8 799.1,808.8 799.5,808.9 799.9,810.6 800.2,811.3 800.6,813.3 801.0,811.8 801.3,811.2 801.7,809.7 802.1,809.3 802.4,810.4 802.8,806.9 803.1,809.8 803.5,812.6 803.9,813.3 804.2,814.6 804.6,818.9 805.0,819.0 805.3,820.4 805.7,820.5 806.1,820.4 806.4,819.0 806.8,818.4 807.1,818.0 807.5,816.8 807.9,816.5 808.2,815.7 808.6,814.6 809.0,815.3 809.3,818.0 809.7,822.5 810.1,820.8 810.4,820.7 810.8,819.8 811.1,819.8 811.5,818.6 811.9,817.3 812.2,821.0 812.6,820.4 813.0,819.2 813.3,819.1 813.7,817.4 814.1,818.3 814.4,820.4 814.8,818.2 815.1,816.3 815.5,814.3 815.9,815.3 816.2,818.4 816.6,818.8 817.0,820.5 817.3,818.6 817.7,816.5 818.1,817.1 818.4,815.6 818.8,816.2 819.2,816.1 819.5,816.0 819.9,813.2 820.2,814.1 820.6,816.1 821.0,818.5 821.3,818.6 821.7,819.3 822.1,818.3 822.4,818.4 822.8,818.0 823.2,816.5 823.5,814.9 823.9,815.2 824.2,815.1 824.6,814.5 825.0,815.4 825.3,815.4 825.7,814.9 826.1,813.9 826.4,814.4 826.8,813.3 827.2,812.8 827.5,814.0 827.9,815.1 828.2,814.4 828.6,814.6 829.0,814.1 829.3,813.8 829.7,814.7 830.1,818.1 830.4,815.4 830.8,813.4 831.2,815.7 831.5,817.6 831.9,817.9 832.2,816.8 832.6,818.3 833.0,815.8 833.3,815.2 833.7,812.7 834.1,808.6 834.4,809.0 834.8,809.4 835.2,809.5 835.5,810.4 835.9,810.7 836.3,809.8 836.6,812.5 837.0,813.9 837.3,814.7 837.7,813.2 838.1,813.4 838.4,814.5 838.8,813.8 839.2,815.0 839.5,814.6 839.9,815.4 840.3,814.7 840.6,814.9 841.0,814.5 841.3,814.3 841.7,814.6 842.1,814.2 842.4,814.8 842.8,813.4 843.2,813.3 843.5,813.8 843.9,814.5 844.3,814.8 844.6,815.5 845.0,814.9 845.3,814.9 845.7,815.2 846.1,815.3 846.4,814.7 846.8,815.4 847.2,815.5 847.5,817.1 847.9,817.7 848.3,819.2 848.6,817.8 849.0,816.6 849.3,818.0 849.7,818.3 850.1,818.2 850.4,818.9 850.8,817.3 851.2,817.3 851.5,822.2 851.9,824.1 852.3,825.1 852.6,823.6 853.0,820.0 853.3,821.7 853.7,821.9 854.1,821.2 854.4,820.9 854.8,822.1 855.2,824.8 855.5,826.7 855.9,824.3 856.3,822.9 856.6,821.7 857.0,822.7 857.4,822.1 857.7,821.3 858.1,820.7 858.4,820.5 858.8,821.2 859.2,823.6 859.5,822.4 859.9,822.3 860.3,821.4 860.6,820.6 861.0,820.2 861.4,818.4 861.7,818.2 862.1,818.1 862.4,817.8 862.8,817.2 863.2,818.9 863.5,816.7 863.9,816.1 864.3,814.2 864.6,812.8 865.0,813.1 865.4,813.8 865.7,813.2 866.1,811.1 866.4,810.8 866.8,812.8 867.2,813.4 867.5,814.6 867.9,814.4 868.3,814.4 868.6,815.6 869.0,815.5 869.4,815.2 869.7,815.8 870.1,814.3 870.4,813.6 870.8,812.8 871.2,814.2 871.5,816.4 871.9,815.9 872.3,815.7 872.6,817.9 873.0,816.9 873.4,816.3 873.7,815.1 874.1,815.8 874.5,816.0 874.8,819.6 875.2,817.0 875.5,819.3 875.9,817.1 876.3,815.1 876.6,811.8 877.0,812.6 877.4,811.2 877.7,810.2 878.1,809.0 878.5,806.0 878.8,804.3 879.2,800.6 879.5,800.9 879.9,801.2 880.3,800.8 880.6,800.0 881.0,801.4 881.4,801.8 881.7,803.4 882.1,803.2 882.5,802.9 882.8,802.9 883.2,803.4 883.5,802.5 883.9,802.1 884.3,802.3 884.6,805.8 885.0,807.3 885.4,806.5 885.7,807.0 886.1,807.1 886.5,808.7 886.8,810.6 887.2,812.3 887.5,812.5 887.9,814.3 888.3,812.6 888.6,812.0 889.0,814.3 889.4,814.0 889.7,816.0 890.1,816.9 890.5,818.1 890.8,819.5 891.2,821.7 891.6,821.9 891.9,823.0 892.3,822.0 892.6,821.5 893.0,822.9 893.4,824.6 893.7,825.7 894.1,826.8 894.5,827.8 894.8,829.2 895.2,830.0 895.6,832.4 895.9,832.4 896.3,832.7 896.6,833.2 897.0,834.1 897.4,835.5 897.7,834.3 898.1,833.0 898.5,831.4 898.8,838.8 899.2,836.2 899.6,836.0 899.9,835.6 900.3,834.8 900.6,833.7 901.0,833.6 901.4,832.8 901.7,832.3 902.1,835.0 902.5,836.1 902.8,834.9 903.2,842.3 903.6,841.1 903.9,838.2 904.3,837.4 904.6,837.8 905.0,837.6 905.4,836.7 905.7,837.5 906.1,841.0 906.5,842.5 906.8,848.5 907.2,848.9 907.6,849.1 907.9,850.5 908.3,848.9 908.7,851.6 909.0,853.7 909.4,853.4 909.7,853.5 910.1,852.4 910.5,851.9 910.8,853.0 911.2,853.5 911.6,855.0 911.9,854.7 912.3,855.1 912.7,854.6 913.0,854.5 913.4,855.7 913.7,856.9 914.1,855.1 914.5,854.4 914.8,855.4 915.2,856.9 915.6,855.8 915.9,855.7 916.3,857.4 916.7,857.3 917.0,858.9 917.4,859.0 917.7,859.5 918.1,859.1 918.5,858.2 918.8,857.5 919.2,858.0 919.6,857.1 919.9,857.2 920.3,856.1 920.7,855.5 921.0,858.3 921.4,858.1 921.7,858.8 922.1,860.2 922.5,861.9 922.8,861.8 923.2,861.9 923.6,862.6 923.9,862.9 924.3,863.4 924.7,861.3 925.0,865.0 925.4,869.8 925.7,872.8 926.1,868.2 926.5,866.0 926.8,865.1 927.2,865.3 927.6,865.5 927.9,864.9 928.3,865.3 928.7,865.2 929.0,862.9 929.4,862.0 929.8,859.4 930.1,857.7 930.5,857.0 930.8,856.8 931.2,855.8 931.6,854.9 931.9,853.1 932.3,850.3 932.7,850.6 933.0,849.8 933.4,849.3 933.8,847.9 934.1,846.1 934.5,844.0 934.8,841.8 935.2,840.2 935.6,839.4 935.9,839.3 936.3,838.7 936.7,837.0 937.0,834.8 937.4,833.7 937.8,832.3 938.1,832.3 938.5,832.7 938.8,832.9 939.2,833.8 939.6,834.9 939.9,834.9 940.3,834.7 940.7,835.6 941.0,834.6 941.4,836.1 941.8,837.2 942.1,838.5 942.5,837.1 942.8,838.8 943.2,839.5 943.6,839.4 943.9,841.8 944.3,844.0 944.7,843.3 945.0,842.7 945.4,843.8 945.8,845.4 946.1,846.6 946.5,847.2 946.9,847.1 947.2,849.1 947.6,850.5 947.9,851.1 948.3,851.6 948.7,850.4 949.0,848.2 949.4,848.6 949.8,849.2 950.1,851.4 950.5,854.2 950.9,854.1 951.2,855.1 951.6,854.1 951.9,853.7 952.3,854.3 952.7,854.9 953.0,855.3 953.4,854.1 953.8,853.4 954.1,851.8 954.5,851.7 954.9,854.6 955.2,854.7 955.6,855.1 955.9,853.7 956.3,855.8 956.7,855.9 957.0,852.4 957.4,851.3 957.8,848.5 958.1,844.1 958.5,840.3 958.9,837.7 959.2,835.1 959.6,831.3 959.9,829.8 960.3,827.4 960.7,825.1 961.0,832.5 961.4,828.2 961.8,824.5 962.1,818.4 962.5,818.3 962.9,817.7 963.2,816.6 963.6,814.9 964.0,814.6 964.3,815.7 964.7,815.6 965.0,815.1 965.4,817.1 965.8,817.1 966.1,817.3 966.5,816.8 966.9,816.6 967.2,816.8 967.6,815.8 968.0,818.5 968.3,819.1 968.7,818.2 969.0,816.0 969.4,819.9 969.8,825.8 970.1,824.8 970.5,818.2 970.9,816.3 971.2,814.5 971.6,813.4 972.0,812.2 972.3,810.4 972.7,811.4 973.0,811.5 973.4,811.6 973.8,808.9 974.1,807.5 974.5,805.6 974.9,803.8 975.2,801.8 975.6,800.4 976.0,798.9 976.3,797.9 976.7,795.9 977.0,796.7 977.4,796.2 977.8,799.1 978.1,799.8 978.5,800.7 978.9,797.8 979.2,795.0 979.6,793.3 980.0,790.5 980.3,789.6 980.7,790.9 981.0,789.7 981.4,789.0 981.8,790.0 982.1,789.5 982.5,789.6 982.9,790.9 983.2,789.9 983.6,791.4 984.0,791.4 984.3,792.5 984.7,789.4 985.1,790.5 985.4,791.4 985.8,792.5 986.1,796.2 986.5,794.9 986.9,796.6 987.2,795.3 987.6,794.2 988.0,796.0 988.3,795.7 988.7,793.2 989.1,792.9 989.4,793.1 989.8,792.3 990.1,792.2 990.5,791.2 990.9,791.7 991.2,791.5 991.6,791.7 992.0,792.4 992.3,793.1 992.7,791.4 993.1,792.3 993.4,790.4 993.8,787.9 994.1,787.6 994.5,787.1 994.9,789.3 995.2,787.5 995.6,786.4 996.0,785.8 996.3,786.3 996.7,787.6 997.1,789.4 997.4,792.5 997.8,792.5 998.1,792.9 998.5,789.8 998.9,790.1 999.2,789.9 999.6,791.7 1000.0,791.8 1000.3,789.8 1000.7,790.0 1001.1,790.9 1001.4,791.8 1001.8,793.6 1002.2,795.6 1002.5,799.2 1002.9,802.9 1003.2,800.7 1003.6,804.7 1004.0,804.5 1004.3,802.1 1004.7,802.0 1005.1,801.3 1005.4,798.4 1005.8,797.9 1006.2,802.3 1006.5,797.3 1006.9,795.0 1007.2,795.3 1007.6,793.9 1008.0,792.9 1008.3,793.1 1008.7,790.0 1009.1,790.0 1009.4,789.9 1009.8,788.5 1010.2,788.2 1010.5,789.1 1010.9,789.4 1011.2,788.0 1011.6,789.5 1012.0,788.8 1012.3,787.1 1012.7,786.4 1013.1,789.6 1013.4,786.9 1013.8,785.5 1014.2,786.5 1014.5,786.1 1014.9,787.1 1015.2,786.8 1015.6,791.6 1016.0,791.5 1016.3,791.5 1016.7,792.0 1017.1,792.2 1017.4,789.8 1017.8,792.8 1018.2,794.2 1018.5,793.3 1018.9,794.1 1019.3,792.3 1019.6,790.6 1020.0,790.9 1020.3,791.0 1020.7,789.9 1021.1,788.1 1021.4,787.9 1021.8,787.2 1022.2,786.7 1022.5,785.0 1022.9,785.0 1023.3,785.2 1023.6,785.3 1024.0,783.8 1024.3,783.0 1024.7,780.4 1025.1,780.0 1025.4,778.5 1025.8,778.1 1026.2,778.7 1026.5,778.2 1026.9,779.3 1027.3,780.0 1027.6,782.9 1028.0,784.1 1028.3,786.3 1028.7,785.0 1029.1,785.6 1029.4,781.0 1029.8,782.5 1030.2,784.1 1030.5,784.4 1030.9,784.8 1031.3,783.5 1031.6,782.1 1032.0,780.6 1032.3,782.7 1032.7,784.9 1033.1,788.1 1033.4,793.5 1033.8,795.9 1034.2,792.6 1034.5,792.4 1034.9,790.0 1035.3,788.3 1035.6,788.5 1036.0,789.0 1036.3,789.3 1036.7,789.7 1037.1,789.6 1037.4,790.9 1037.8,790.4 1038.2,791.7 1038.5,790.3 1038.9,789.3 1039.3,792.5 1039.6,794.9 1040.0,797.4 1040.4,798.0 1040.7,798.6 1041.1,798.6 1041.4,799.2 1041.8,800.2 1042.2,800.4 1042.5,801.3 1042.9,802.7 1043.3,804.7 1043.6,805.5 1044.0,806.2 1044.4,802.4 1044.7,800.4 1045.1,798.6 1045.4,797.6 1045.8,800.9 1046.2,801.4 1046.5,804.2 1046.9,804.0 1047.3,802.6 1047.6,802.6 1048.0,802.1 1048.4,800.7 1048.7,800.5 1049.1,797.3 1049.4,797.9 1049.8,794.1 1050.2,793.2 1050.5,793.3 1050.9,789.3 1051.3,789.3 1051.6,788.5 1052.0,788.4 1052.4,789.0 1052.7,788.1 1053.1,785.3 1053.4,781.8 1053.8,782.2 1054.2,782.0 1054.5,782.1 1054.9,781.2 1055.3,780.8 1055.6,779.6 1056.0,779.3 1056.4,778.6 1056.7,781.1 1057.1,783.5 1057.5,784.8 1057.8,785.7 1058.2,784.0 1058.5,784.2 1058.9,787.1 1059.3,787.1 1059.6,789.1 1060.0,791.0 1060.4,789.3 1060.7,786.4 1061.1,789.1 1061.5,785.4 1061.8,784.0 1062.2,782.9 1062.5,782.8 1062.9,782.2 1063.3,780.9 1063.6,780.0 1064.0,779.0" fill="none" stroke="#479cea" stroke-width="4.8" stroke-linejoin="miter" stroke-miterlimit="10"/>
<line x1="1196.5" y1="463.4" x2="1769.8" y2="463.4" stroke="#dcdfe3" stroke-width="3"/>
<line x1="1198.5" y1="544.1" x2="1768.8" y2="544.1" stroke="#dfe2e6" stroke-width="4.2"/>
<line x1="1198.5" y1="598.5" x2="1768.8" y2="598.5" stroke="#dcdfe3" stroke-width="2.6"/>
<line x1="1198.5" y1="652.8" x2="1768.8" y2="652.8" stroke="#dcdfe3" stroke-width="2.6"/>
<line x1="1198.5" y1="707.2" x2="1768.8" y2="707.2" stroke="#dcdfe3" stroke-width="2.6"/>
<line x1="1198.5" y1="761.6" x2="1768.8" y2="761.6" stroke="#dcdfe3" stroke-width="2.6"/>
<line x1="1198.5" y1="816.0" x2="1768.8" y2="816.0" stroke="#dcdfe3" stroke-width="2.6"/>
<line x1="1198.5" y1="870.3" x2="1768.8" y2="870.3" stroke="#dcdfe3" stroke-width="2.6"/>
<line x1="1198.5" y1="924.7" x2="1768.8" y2="924.7" stroke="#dcdfe3" stroke-width="2.6"/>
<line x1="1198.5" y1="979.1" x2="1768.8" y2="979.1" stroke="#dcdfe3" stroke-width="2.6"/>
<line x1="1198.5" y1="1033.4" x2="1768.8" y2="1033.4" stroke="#dcdfe3" stroke-width="2.6"/>
<line x1="1198.5" y1="464.4" x2="1198.5" y2="1087.8" stroke="#0c0c0c" stroke-width="1.6"/>
<line x1="1477.0" y1="464.4" x2="1477.0" y2="1087.8" stroke="#0c0c0c" stroke-width="1.6"/>
<line x1="1625.6" y1="464.4" x2="1625.6" y2="1087.8" stroke="#0c0c0c" stroke-width="1.6"/>
<line x1="1768.8" y1="464.4" x2="1768.8" y2="1087.8" stroke="#0c0c0c" stroke-width="1.6"/>
<line x1="1197.5" y1="1087.8" x2="1769.8" y2="1087.8" stroke="#0c0c0c" stroke-width="1.6"/>
</svg>
<h1 class="t" style="left:93.99px;top:29.68px;font-size:60.61px;font-weight:700;letter-spacing:-0.159px;word-spacing:-3.03px;color:#11304d;transform:scaleX(0.9925);-webkit-text-stroke:0.30px #11304d">Uniwersytet 2023 Backtest</h1>
<h2 class="t" style="left:93.75px;top:110.71px;font-size:41.28px;font-weight:700;letter-spacing:0.355px;word-spacing:-4.13px;color:#11304d;transform:scaleX(1.0277);-webkit-text-stroke:0.30px #11304d">Dec. 28, 2013 — Dec. 28, 2023</h2>
<div class="t" style="left:94.69px;top:171.60px;font-size:27.76px;font-weight:400;letter-spacing:0.534px;word-spacing:-2.78px;color:#11304d;transform:scaleX(1.0609);-webkit-text-stroke:0.55px #11304d">Companies: Uniwersytet 2023</div>
<div class="t" style="left:93.70px;top:207.10px;font-size:27.76px;font-weight:400;letter-spacing:0.414px;word-spacing:-2.78px;color:#11304d;transform:scaleX(1.0483);-webkit-text-stroke:0.55px #11304d">Rebalance every 1 month(s)</div>
<div class="t" style="left:93.70px;top:242.60px;font-size:27.76px;font-weight:400;letter-spacing:0.485px;word-spacing:-2.78px;color:#11304d;transform:scaleX(1.0670);-webkit-text-stroke:0.55px #11304d">Portfolio size: 25</div>
<div class="t" style="left:95.70px;top:278.10px;font-size:27.76px;font-weight:400;letter-spacing:0.373px;word-spacing:-2.78px;color:#11304d;transform:scaleX(1.0496);-webkit-text-stroke:0.55px #11304d">Allocation: Hierarchical Risk Parity</div>
<div class="t" style="left:93.70px;top:313.60px;font-size:27.76px;font-weight:400;letter-spacing:0.384px;word-spacing:-2.78px;color:#11304d;transform:scaleX(1.0473);-webkit-text-stroke:0.55px #11304d">Required years since IPO: 0.0</div>
<div class="t" style="left:93.70px;top:349.10px;font-size:27.76px;font-weight:400;letter-spacing:0.404px;word-spacing:-2.78px;color:#11304d;transform:scaleX(1.0505);-webkit-text-stroke:0.55px #11304d">Red Scores tolerance: Full</div>
<div class="t" style="left:93.70px;top:384.60px;font-size:27.76px;font-weight:400;letter-spacing:0.438px;word-spacing:-2.78px;color:#11304d;transform:scaleX(1.0486);-webkit-text-stroke:0.55px #11304d">Reduce Turnover: No</div>
<h3 class="t" style="left:94.41px;top:467.49px;font-size:41.43px;font-weight:700;letter-spacing:-0.978px;word-spacing:-4.14px;color:#11304d;transform:scaleX(0.9570);-webkit-text-stroke:0.30px #11304d">CAGR:</h3>
<div class="t" style="left:239.90px;top:470.98px;font-size:38.37px;font-weight:700;letter-spacing:0.555px;word-spacing:-3.84px;color:#ffffff;transform:scaleX(1.0335);-webkit-text-stroke:0.30px #ffffff">23.05%</div>
<div class="t" style="left:95.62px;top:531.81px;font-size:28.34px;font-weight:400;letter-spacing:0.484px;word-spacing:-2.83px;color:#11304d;transform:scaleX(1.0604);-webkit-text-stroke:0.55px #11304d">Total Profit: 696.09%</div>
<div class="t" style="left:107.05px;top:588.29px;font-size:21.08px;font-weight:400;letter-spacing:0.052px;word-spacing:-2.11px;color:#6a3fb5;transform:scaleX(1.0079);-webkit-text-stroke:0.30px #6a3fb5">Rule Details</div>
<div class="t" style="left:264.32px;top:588.29px;font-size:21.08px;font-weight:400;letter-spacing:0.121px;word-spacing:-2.11px;color:#6a3fb5;transform:scaleX(1.0191);-webkit-text-stroke:0.30px #6a3fb5">Price/Score Correlation</div>
<h2 class="t" style="left:1121.03px;top:49.18px;font-size:53.20px;font-weight:700;letter-spacing:0.020px;word-spacing:-5.32px;color:#11304d;transform:scaleX(1.0012);-webkit-text-stroke:0.30px #11304d">Dec. 28, 2013 — Dec. 28, 2023</h2>
<div class="t" style="left:1123.60px;top:121.19px;font-size:24.13px;font-weight:400;letter-spacing:0.584px;word-spacing:-2.41px;color:#11304d;transform:scaleX(1.0779);-webkit-text-stroke:0.55px #11304d">Companies: Uniwersytet 2023</div>
<div class="t" style="left:1122.83px;top:151.63px;font-size:24.13px;font-weight:400;letter-spacing:0.491px;word-spacing:-2.41px;color:#11304d;transform:scaleX(1.0671);-webkit-text-stroke:0.55px #11304d">Rebalance every 1 month(s)</div>
<div class="t" style="left:1122.60px;top:182.07px;font-size:24.13px;font-weight:400;letter-spacing:0.553px;word-spacing:-2.41px;color:#11304d;transform:scaleX(1.0897);-webkit-text-stroke:0.55px #11304d">Portfolio size: 25</div>
<div class="t" style="left:1124.60px;top:212.51px;font-size:24.13px;font-weight:400;letter-spacing:0.452px;word-spacing:-2.41px;color:#11304d;transform:scaleX(1.0705);-webkit-text-stroke:0.55px #11304d">Allocation: Hierarchical Risk Parity</div>
<div class="t" style="left:1122.83px;top:242.95px;font-size:24.13px;font-weight:400;letter-spacing:0.450px;word-spacing:-2.41px;color:#11304d;transform:scaleX(1.0650);-webkit-text-stroke:0.55px #11304d">Required years since IPO: 0.0</div>
<div class="t" style="left:1122.82px;top:273.39px;font-size:24.13px;font-weight:400;letter-spacing:0.481px;word-spacing:-2.41px;color:#11304d;transform:scaleX(1.0704);-webkit-text-stroke:0.55px #11304d">Red Scores tolerance: Full</div>
<div class="t" style="left:1122.84px;top:303.83px;font-size:24.13px;font-weight:400;letter-spacing:0.500px;word-spacing:-2.41px;color:#11304d;transform:scaleX(1.0647);-webkit-text-stroke:0.55px #11304d">Reduce Turnover: No</div>
<h3 class="t" style="left:1377.80px;top:397.95px;font-size:39.83px;font-weight:700;letter-spacing:-0.358px;word-spacing:-3.98px;color:#11304d;transform:scaleX(0.9757);-webkit-text-stroke:0.30px #11304d">Key Metrics</h3>
<div class="t" style="left:1496.94px;top:490.96px;font-size:26.16px;font-weight:700;letter-spacing:0.001px;word-spacing:-2.62px;color:#11304d;transform:scaleX(1.0001);-webkit-text-stroke:0.30px #11304d">Portfolio</div>
<div class="t" style="left:1646.62px;top:490.96px;font-size:26.16px;font-weight:700;letter-spacing:-0.331px;word-spacing:-2.62px;color:#11304d;transform:scaleX(0.9783);-webkit-text-stroke:0.30px #11304d">^SPX</div>
<div class="t" style="left:1219.25px;top:559.59px;font-size:25.29px;font-weight:700;letter-spacing:0.212px;word-spacing:-2.53px;color:#11304d;transform:scaleX(1.0242);-webkit-text-stroke:0.30px #11304d">Annual return</div>
<div class="t" style="left:1497.40px;top:559.62px;font-size:25.73px;font-weight:400;letter-spacing:0.103px;word-spacing:-2.57px;color:#11304d;transform:scaleX(1.0091);-webkit-text-stroke:0.55px #11304d">23.05%</div>
<div class="t" style="left:1645.31px;top:559.62px;font-size:25.73px;font-weight:400;letter-spacing:-0.183px;word-spacing:-2.57px;color:#11304d;transform:scaleX(0.9842);-webkit-text-stroke:0.55px #11304d">10.02%</div>
<div class="t" style="left:1218.70px;top:613.96px;font-size:25.29px;font-weight:700;letter-spacing:0.225px;word-spacing:-2.53px;color:#11304d;transform:scaleX(1.0260);-webkit-text-stroke:0.30px #11304d">Cumulative returns</div>
<div class="t" style="left:1497.40px;top:613.99px;font-size:25.73px;font-weight:400;letter-spacing:0.317px;word-spacing:-2.57px;color:#11304d;transform:scaleX(1.0294);-webkit-text-stroke:0.55px #11304d">696.09%</div>
<div class="t" style="left:1645.31px;top:613.99px;font-size:25.73px;font-weight:400;letter-spacing:-0.152px;word-spacing:-2.57px;color:#11304d;transform:scaleX(0.9864);-webkit-text-stroke:0.55px #11304d">159.77%</div>
<div class="t" style="left:1218.35px;top:668.33px;font-size:25.29px;font-weight:700;letter-spacing:0.301px;word-spacing:-2.53px;color:#11304d;transform:scaleX(1.0290);-webkit-text-stroke:0.30px #11304d">Max drawdown</div>
<div class="t" style="left:1497.40px;top:668.36px;font-size:25.73px;font-weight:400;letter-spacing:-0.044px;word-spacing:-2.57px;color:#11304d;transform:scaleX(0.9958);-webkit-text-stroke:0.55px #11304d">-31.72%</div>
<div class="t" style="left:1645.80px;top:668.36px;font-size:25.73px;font-weight:400;letter-spacing:0.351px;word-spacing:-2.57px;color:#11304d;transform:scaleX(1.0347);-webkit-text-stroke:0.55px #11304d">-33.92%</div>
<div class="t" style="left:1219.28px;top:722.70px;font-size:25.29px;font-weight:700;letter-spacing:0.107px;word-spacing:-2.53px;color:#11304d;transform:scaleX(1.0135);-webkit-text-stroke:0.30px #11304d">Annual volatility</div>
<div class="t" style="left:1497.74px;top:722.73px;font-size:25.73px;font-weight:400;letter-spacing:-0.317px;word-spacing:-2.57px;color:#11304d;transform:scaleX(0.9714);-webkit-text-stroke:0.55px #11304d">0.18</div>
<div class="t" style="left:1646.19px;top:722.73px;font-size:25.73px;font-weight:400;letter-spacing:-0.637px;word-spacing:-2.57px;color:#11304d;transform:scaleX(0.9440);-webkit-text-stroke:0.55px #11304d">0.17</div>
<div class="t" style="left:1219.13px;top:777.07px;font-size:25.29px;font-weight:700;letter-spacing:0.238px;word-spacing:-2.53px;color:#11304d;transform:scaleX(1.0282);-webkit-text-stroke:0.30px #11304d">Sharpe ratio</div>
<div class="t" style="left:1497.89px;top:777.10px;font-size:25.73px;font-weight:400;letter-spacing:-0.415px;word-spacing:-2.57px;color:#11304d;transform:scaleX(0.9624);-webkit-text-stroke:0.55px #11304d">1.20</div>
<div class="t" style="left:1646.09px;top:777.10px;font-size:25.73px;font-weight:400;letter-spacing:0.156px;word-spacing:-2.57px;color:#11304d;transform:scaleX(1.0148);-webkit-text-stroke:0.55px #11304d">0.62</div>
<div class="t" style="left:1218.70px;top:831.44px;font-size:25.29px;font-weight:700;letter-spacing:0.254px;word-spacing:-2.53px;color:#11304d;transform:scaleX(1.0302);-webkit-text-stroke:0.30px #11304d">Calmar ratio</div>
<div class="t" style="left:1497.72px;top:831.47px;font-size:25.73px;font-weight:400;letter-spacing:-0.088px;word-spacing:-2.57px;color:#11304d;transform:scaleX(0.9919);-webkit-text-stroke:0.55px #11304d">0.70</div>
<div class="t" style="left:1646.10px;top:831.47px;font-size:25.73px;font-weight:400;letter-spacing:0.195px;word-spacing:-2.57px;color:#11304d;transform:scaleX(1.0184);-webkit-text-stroke:0.55px #11304d">0.28</div>
<div class="t" style="left:1219.14px;top:885.81px;font-size:25.29px;font-weight:700;letter-spacing:0.182px;word-spacing:-2.53px;color:#11304d;transform:scaleX(1.0229);-webkit-text-stroke:0.30px #11304d">Sortino ratio</div>
<div class="t" style="left:1497.98px;top:885.84px;font-size:25.73px;font-weight:400;letter-spacing:-0.704px;word-spacing:-2.57px;color:#11304d;transform:scaleX(0.9374);-webkit-text-stroke:0.55px #11304d">1.77</div>
<div class="t" style="left:1646.08px;top:885.84px;font-size:25.73px;font-weight:400;letter-spacing:0.334px;word-spacing:-2.57px;color:#11304d;transform:scaleX(1.0322);-webkit-text-stroke:0.55px #11304d">0.86</div>
<div class="t" style="left:1218.36px;top:940.18px;font-size:25.29px;font-weight:700;letter-spacing:0.233px;word-spacing:-2.53px;color:#11304d;transform:scaleX(1.0316);-webkit-text-stroke:0.30px #11304d">Daily value at risk</div>
<div class="t" style="left:1497.40px;top:940.21px;font-size:25.73px;font-weight:400;letter-spacing:0.068px;word-spacing:-2.57px;color:#11304d;transform:scaleX(1.0064);-webkit-text-stroke:0.55px #11304d">-2.19%</div>
<div class="t" style="left:1645.80px;top:940.21px;font-size:25.73px;font-weight:400;letter-spacing:0.036px;word-spacing:-2.57px;color:#11304d;transform:scaleX(1.0034);-webkit-text-stroke:0.55px #11304d">-2.15%</div>
<div class="t" style="left:1219.30px;top:994.55px;font-size:25.29px;font-weight:700;letter-spacing:-0.110px;word-spacing:-2.53px;color:#11304d;transform:scaleX(0.9907);-webkit-text-stroke:0.30px #11304d">Alpha</div>
<div class="t" style="left:1497.75px;top:994.58px;font-size:25.73px;font-weight:400;letter-spacing:-0.289px;word-spacing:-2.57px;color:#11304d;transform:scaleX(0.9738);-webkit-text-stroke:0.55px #11304d">0.16</div>
<div class="t" style="left:1646.40px;top:994.58px;font-size:25.73px;font-weight:400;letter-spacing:0.000px;word-spacing:-2.57px;color:#11304d;transform:scaleX(1.2485);-webkit-text-stroke:0.55px #11304d">-</div>
<div class="t" style="left:1218.39px;top:1048.92px;font-size:25.29px;font-weight:700;letter-spacing:0.118px;word-spacing:-2.53px;color:#11304d;transform:scaleX(1.0100);-webkit-text-stroke:0.30px #11304d">Beta</div>
<div class="t" style="left:1497.70px;top:1048.95px;font-size:25.73px;font-weight:400;letter-spacing:0.120px;word-spacing:-2.57px;color:#11304d;transform:scaleX(1.0111);-webkit-text-stroke:0.55px #11304d">0.64</div>
<div class="t" style="left:1646.40px;top:1048.95px;font-size:25.73px;font-weight:400;letter-spacing:0.000px;word-spacing:-2.57px;color:#11304d;transform:scaleX(1.2485);-webkit-text-stroke:0.55px #11304d">-</div>
<div class="t" style="left:41.00px;top:764.88px;font-size:22.50px;font-weight:400;letter-spacing:0.000px;word-spacing:0.00px;color:#5e5e5e;transform:scaleX(0.9959);-webkit-text-stroke:0.35px #5e5e5e">$800000</div>
<div class="t" style="left:41.00px;top:864.88px;font-size:22.50px;font-weight:400;letter-spacing:0.000px;word-spacing:0.00px;color:#5e5e5e;transform:scaleX(0.9959);-webkit-text-stroke:0.35px #5e5e5e">$470000</div>
<div class="t" style="left:41.00px;top:969.98px;font-size:22.50px;font-weight:400;letter-spacing:0.000px;word-spacing:0.00px;color:#5e5e5e;transform:scaleX(0.9959);-webkit-text-stroke:0.35px #5e5e5e">$270000</div>
<div class="t" style="left:41.00px;top:1068.17px;font-size:22.50px;font-weight:400;letter-spacing:0.000px;word-spacing:0.00px;color:#5e5e5e;transform:scaleX(0.9959);-webkit-text-stroke:0.35px #5e5e5e">$160000</div>
<div class="t" style="left:54.00px;top:1177.38px;font-size:22.50px;font-weight:400;letter-spacing:0.000px;word-spacing:0.00px;color:#5e5e5e;transform:scaleX(0.9885);-webkit-text-stroke:0.35px #5e5e5e">$90000</div>
<div class="t" style="left:123.70px;top:1221.88px;font-size:22.50px;font-weight:400;letter-spacing:0.000px;word-spacing:0.00px;color:#5e5e5e;transform:scaleX(1.0167);-webkit-text-stroke:0.35px #5e5e5e">2013</div>
<div class="t" style="left:353.20px;top:1221.88px;font-size:22.50px;font-weight:400;letter-spacing:0.000px;word-spacing:0.00px;color:#5e5e5e;transform:scaleX(1.0167);-webkit-text-stroke:0.35px #5e5e5e">2016</div>
<div class="t" style="left:582.10px;top:1221.88px;font-size:22.50px;font-weight:400;letter-spacing:0.000px;word-spacing:0.00px;color:#5e5e5e;transform:scaleX(1.0125);-webkit-text-stroke:0.35px #5e5e5e">2018</div>
<div class="t" style="left:810.50px;top:1221.88px;font-size:22.50px;font-weight:400;letter-spacing:0.000px;word-spacing:0.00px;color:#5e5e5e;transform:scaleX(1.0167);-webkit-text-stroke:0.35px #5e5e5e">2021</div>
<div class="t" style="left:449.04px;top:733.83px;font-size:22.90px;font-weight:400;letter-spacing:0.000px;word-spacing:0.00px;color:#5e5e5e;transform:scaleX(1.0159);-webkit-text-stroke:0.35px #5e5e5e">Portfolio</div>
<div class="t" style="left:640.40px;top:733.83px;font-size:22.90px;font-weight:400;letter-spacing:0.000px;word-spacing:0.00px;color:#5e5e5e;transform:scaleX(0.9857);-webkit-text-stroke:0.35px #5e5e5e">^SPX</div>
<div class="t" style="left:-15.6px;top:976.3px;width:60px;text-align:center;font-size:22.7px;color:#5e5e5e;transform:rotate(-90deg) scaleX(0.975);transform-origin:50% 50%;-webkit-text-stroke:0.35px #5e5e5e">Value</div>
<svg width="1971" height="1253" viewBox="0 0 1971 1253"><rect x="1180.25" y="595.15" width="608.8" height="58.5" fill="none" stroke="#ff2600" stroke-width="9.7"/></svg>
</body></html>
